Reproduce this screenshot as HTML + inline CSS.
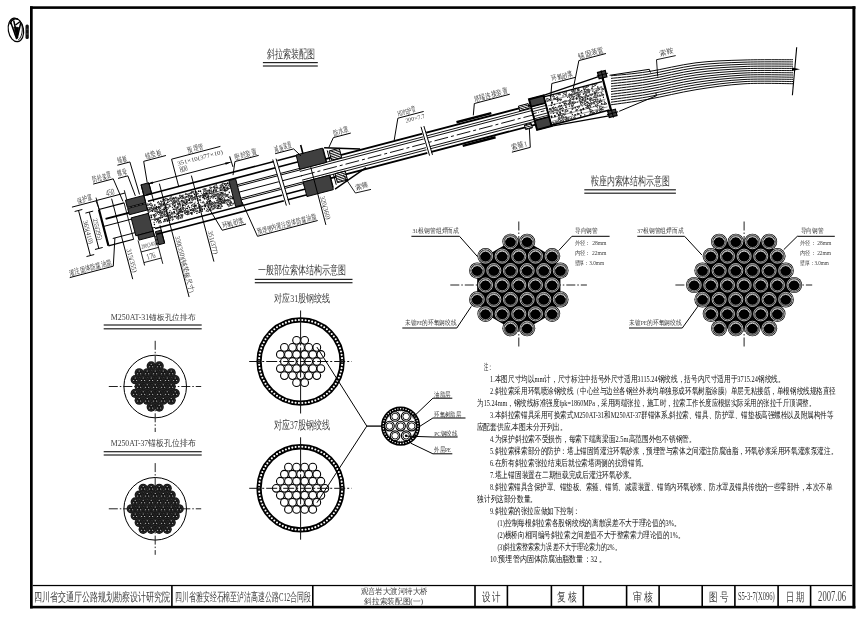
<!DOCTYPE html>
<html><head><meta charset="utf-8"><title>斜拉索装配图</title>
<style>html,body{margin:0;padding:0;background:#fff;}svg{display:block;will-change:transform;}</style></head>
<body><svg width="867" height="624" viewBox="0 0 867 624" font-family="'Liberation Serif', serif">
<defs><pattern id="hx" width="1.8" height="1.8" patternUnits="userSpaceOnUse" patternTransform="rotate(45)"><rect width="1.8" height="1.8" fill="#000"/><rect x="0.45" y="0.45" width="0.9" height="0.9" fill="#fff"/></pattern><pattern id="hy" width="1.6" height="1.6" patternUnits="userSpaceOnUse"><rect width="1.6" height="1.6" fill="#fff"/><rect width="1.6" height="0.75" fill="#000"/></pattern></defs>
<rect width="867" height="624" fill="#fff"/>
<rect x="30.00" y="6.30" width="825.40" height="2.60" fill="#000"/>
<rect x="30.00" y="6.30" width="2.70" height="602.10" fill="#000"/>
<rect x="852.40" y="6.30" width="3.00" height="602.10" fill="#000"/>
<rect x="30.00" y="605.80" width="825.40" height="2.60" fill="#000"/>
<rect x="32.70" y="584.90" width="819.70" height="1.25" fill="#000"/>
<rect x="171.10" y="585.00" width="1.60" height="21.00" fill="#000"/>
<rect x="312.00" y="585.00" width="1.60" height="21.00" fill="#000"/>
<rect x="474.20" y="585.00" width="1.60" height="21.00" fill="#000"/>
<rect x="506.60" y="585.00" width="1.60" height="21.00" fill="#000"/>
<rect x="550.60" y="585.00" width="1.60" height="21.00" fill="#000"/>
<rect x="582.50" y="585.00" width="1.60" height="21.00" fill="#000"/>
<rect x="625.80" y="585.00" width="1.60" height="21.00" fill="#000"/>
<rect x="658.30" y="585.00" width="1.60" height="21.00" fill="#000"/>
<rect x="701.40" y="585.00" width="1.60" height="21.00" fill="#000"/>
<rect x="734.10" y="585.00" width="1.60" height="21.00" fill="#000"/>
<rect x="777.30" y="585.00" width="1.60" height="21.00" fill="#000"/>
<rect x="809.80" y="585.00" width="1.60" height="21.00" fill="#000"/>
<text x="33.8" y="600.8" font-size="11.61" textLength="136.2" lengthAdjust="spacingAndGlyphs" fill="#3c3c3c" >四川省交通厅公路规划勘察设计研究院</text>
<text x="174.9" y="600.8" font-size="11.61" textLength="136.1" lengthAdjust="spacingAndGlyphs" fill="#3c3c3c" >四川省雅安经石棉至泸沽高速公路C12合同段</text>
<text x="360.5" y="594.4" font-size="8.06" textLength="67.2" lengthAdjust="spacingAndGlyphs" fill="#3c3c3c" >观音岩大渡河特大桥</text>
<text x="364.2" y="604.0" font-size="8.06" textLength="58.8" lengthAdjust="spacingAndGlyphs" fill="#3c3c3c" >斜拉索装配图(一)</text>
<text x="481.9" y="600.8" font-size="11.61" textLength="19.1" lengthAdjust="spacingAndGlyphs" fill="#3c3c3c" >设 计</text>
<text x="557.2" y="600.8" font-size="11.83" textLength="19.7" lengthAdjust="spacingAndGlyphs" fill="#3c3c3c" >复 核</text>
<text x="632.9" y="600.8" font-size="11.61" textLength="19.9" lengthAdjust="spacingAndGlyphs" fill="#3c3c3c" >审 核</text>
<text x="709.0" y="600.8" font-size="11.61" textLength="19.0" lengthAdjust="spacingAndGlyphs" fill="#3c3c3c" >图 号</text>
<text x="737.9" y="600.4" font-size="11.52" textLength="36.9" lengthAdjust="spacingAndGlyphs" fill="#3c3c3c" >S5-3-7(X096)</text>
<text x="785.7" y="600.8" font-size="11.61" textLength="18.4" lengthAdjust="spacingAndGlyphs" fill="#3c3c3c" >日 期</text>
<text x="818.1" y="601.3" font-size="14.55" textLength="27.9" lengthAdjust="spacingAndGlyphs" fill="#3c3c3c" >2007.06</text>
<g fill="none" stroke="#000" stroke-linecap="round"><ellipse cx="15.9" cy="29.9" rx="7.6" ry="11.9" stroke-width="1.2" transform="rotate(-10 15.9 29.9)"/><path d="M19.5,20.5 C23.5,23.5 23.5,36 18.5,40" stroke-width="0.9"/><path d="M10.2,23.5 C11.5,19.5 15,18 17.5,19.2" stroke-width="1.6"/><path d="M11,23 L16.5,38.5 M13.8,21 L17.6,37.5 M20.6,23.5 L17.2,38 M16.2,24.5 L19.5,22" stroke-width="1.5"/><path d="M14.2,27 L18.6,27.5 L17.6,35.5 L15.8,35.5 Z" fill="#000" stroke-width="0.8"/></g>
<rect x="25.5" y="24.5" width="3.3" height="14.6" rx="1.5" fill="#111"/>
<path d="M25.5,29.2 h3.3 M25.5,34 h3.3" stroke="#777" stroke-width="0.5"/>
<text x="267.3" y="57.5" font-size="12.15" textLength="48.2" lengthAdjust="spacingAndGlyphs" fill="#3c3c3c" >斜拉索装配图</text>
<rect x="262.90" y="62.00" width="54.90" height="1.20" fill="#222"/>
<rect x="262.90" y="65.40" width="54.90" height="1.20" fill="#222"/>
<text x="590.8" y="184.9" font-size="12.37" textLength="79.1" lengthAdjust="spacingAndGlyphs" fill="#3c3c3c" >鞍座内索体结构示意图</text>
<rect x="584.30" y="189.20" width="91.60" height="1.20" fill="#222"/>
<rect x="584.30" y="192.60" width="91.60" height="1.20" fill="#222"/>
<text x="258.2" y="274.3" font-size="11.61" textLength="88.0" lengthAdjust="spacingAndGlyphs" fill="#3c3c3c" >一般部位索体结构示意图</text>
<rect x="254.80" y="278.80" width="97.70" height="1.20" fill="#222"/>
<rect x="254.80" y="282.10" width="97.70" height="1.20" fill="#222"/>
<text x="110.8" y="319.5" font-size="8.28" textLength="84.6" lengthAdjust="spacingAndGlyphs" fill="#3c3c3c" >M250AT-31锚板孔位排布</text>
<rect x="103.70" y="324.40" width="98.00" height="1.20" fill="#222"/>
<rect x="103.70" y="328.20" width="98.00" height="1.20" fill="#222"/>
<text x="110.8" y="446.1" font-size="8.82" textLength="84.6" lengthAdjust="spacingAndGlyphs" fill="#3c3c3c" >M250AT-37锚板孔位排布</text>
<rect x="103.70" y="451.10" width="98.00" height="1.20" fill="#222"/>
<rect x="103.70" y="454.40" width="98.00" height="1.20" fill="#222"/>
<text x="274.1" y="301.6" font-size="10.97" textLength="56.1" lengthAdjust="spacingAndGlyphs" fill="#3c3c3c" >对应31股钢绞线</text>
<text x="274.1" y="428.5" font-size="11.61" textLength="55.8" lengthAdjust="spacingAndGlyphs" fill="#3c3c3c" >对应37股钢绞线</text>
<circle cx="300.6" cy="361.5" r="41.55" fill="none" stroke="#000" stroke-width="5.3"/>
<circle cx="342.15" cy="361.50" r="1.05" fill="#fff"/>
<circle cx="342.02" cy="364.84" r="1.05" fill="#fff"/>
<circle cx="341.61" cy="368.17" r="1.05" fill="#fff"/>
<circle cx="340.94" cy="371.44" r="1.05" fill="#fff"/>
<circle cx="340.01" cy="374.66" r="1.05" fill="#fff"/>
<circle cx="338.83" cy="377.79" r="1.05" fill="#fff"/>
<circle cx="337.39" cy="380.81" r="1.05" fill="#fff"/>
<circle cx="335.72" cy="383.71" r="1.05" fill="#fff"/>
<circle cx="333.82" cy="386.46" r="1.05" fill="#fff"/>
<circle cx="331.70" cy="389.05" r="1.05" fill="#fff"/>
<circle cx="329.38" cy="391.47" r="1.05" fill="#fff"/>
<circle cx="326.88" cy="393.68" r="1.05" fill="#fff"/>
<circle cx="324.20" cy="395.69" r="1.05" fill="#fff"/>
<circle cx="321.38" cy="397.48" r="1.05" fill="#fff"/>
<circle cx="318.41" cy="399.04" r="1.05" fill="#fff"/>
<circle cx="315.33" cy="400.35" r="1.05" fill="#fff"/>
<circle cx="312.16" cy="401.41" r="1.05" fill="#fff"/>
<circle cx="308.91" cy="402.21" r="1.05" fill="#fff"/>
<circle cx="305.61" cy="402.75" r="1.05" fill="#fff"/>
<circle cx="302.27" cy="403.02" r="1.05" fill="#fff"/>
<circle cx="298.93" cy="403.02" r="1.05" fill="#fff"/>
<circle cx="295.59" cy="402.75" r="1.05" fill="#fff"/>
<circle cx="292.29" cy="402.21" r="1.05" fill="#fff"/>
<circle cx="289.04" cy="401.41" r="1.05" fill="#fff"/>
<circle cx="285.87" cy="400.35" r="1.05" fill="#fff"/>
<circle cx="282.79" cy="399.04" r="1.05" fill="#fff"/>
<circle cx="279.82" cy="397.48" r="1.05" fill="#fff"/>
<circle cx="277.00" cy="395.69" r="1.05" fill="#fff"/>
<circle cx="274.32" cy="393.68" r="1.05" fill="#fff"/>
<circle cx="271.82" cy="391.47" r="1.05" fill="#fff"/>
<circle cx="269.50" cy="389.05" r="1.05" fill="#fff"/>
<circle cx="267.38" cy="386.46" r="1.05" fill="#fff"/>
<circle cx="265.48" cy="383.71" r="1.05" fill="#fff"/>
<circle cx="263.81" cy="380.81" r="1.05" fill="#fff"/>
<circle cx="262.37" cy="377.79" r="1.05" fill="#fff"/>
<circle cx="261.19" cy="374.66" r="1.05" fill="#fff"/>
<circle cx="260.26" cy="371.44" r="1.05" fill="#fff"/>
<circle cx="259.59" cy="368.17" r="1.05" fill="#fff"/>
<circle cx="259.18" cy="364.84" r="1.05" fill="#fff"/>
<circle cx="259.05" cy="361.50" r="1.05" fill="#fff"/>
<circle cx="259.18" cy="358.16" r="1.05" fill="#fff"/>
<circle cx="259.59" cy="354.83" r="1.05" fill="#fff"/>
<circle cx="260.26" cy="351.56" r="1.05" fill="#fff"/>
<circle cx="261.19" cy="348.34" r="1.05" fill="#fff"/>
<circle cx="262.37" cy="345.21" r="1.05" fill="#fff"/>
<circle cx="263.81" cy="342.19" r="1.05" fill="#fff"/>
<circle cx="265.48" cy="339.29" r="1.05" fill="#fff"/>
<circle cx="267.38" cy="336.54" r="1.05" fill="#fff"/>
<circle cx="269.50" cy="333.95" r="1.05" fill="#fff"/>
<circle cx="271.82" cy="331.53" r="1.05" fill="#fff"/>
<circle cx="274.32" cy="329.32" r="1.05" fill="#fff"/>
<circle cx="277.00" cy="327.31" r="1.05" fill="#fff"/>
<circle cx="279.83" cy="325.52" r="1.05" fill="#fff"/>
<circle cx="282.79" cy="323.96" r="1.05" fill="#fff"/>
<circle cx="285.87" cy="322.65" r="1.05" fill="#fff"/>
<circle cx="289.04" cy="321.59" r="1.05" fill="#fff"/>
<circle cx="292.29" cy="320.79" r="1.05" fill="#fff"/>
<circle cx="295.59" cy="320.25" r="1.05" fill="#fff"/>
<circle cx="298.93" cy="319.98" r="1.05" fill="#fff"/>
<circle cx="302.27" cy="319.98" r="1.05" fill="#fff"/>
<circle cx="305.61" cy="320.25" r="1.05" fill="#fff"/>
<circle cx="308.91" cy="320.79" r="1.05" fill="#fff"/>
<circle cx="312.16" cy="321.59" r="1.05" fill="#fff"/>
<circle cx="315.33" cy="322.65" r="1.05" fill="#fff"/>
<circle cx="318.41" cy="323.96" r="1.05" fill="#fff"/>
<circle cx="321.38" cy="325.52" r="1.05" fill="#fff"/>
<circle cx="324.20" cy="327.31" r="1.05" fill="#fff"/>
<circle cx="326.88" cy="329.32" r="1.05" fill="#fff"/>
<circle cx="329.38" cy="331.53" r="1.05" fill="#fff"/>
<circle cx="331.70" cy="333.95" r="1.05" fill="#fff"/>
<circle cx="333.82" cy="336.54" r="1.05" fill="#fff"/>
<circle cx="335.72" cy="339.29" r="1.05" fill="#fff"/>
<circle cx="337.39" cy="342.19" r="1.05" fill="#fff"/>
<circle cx="338.83" cy="345.21" r="1.05" fill="#fff"/>
<circle cx="340.01" cy="348.34" r="1.05" fill="#fff"/>
<circle cx="340.94" cy="351.56" r="1.05" fill="#fff"/>
<circle cx="341.61" cy="354.83" r="1.05" fill="#fff"/>
<circle cx="342.02" cy="358.16" r="1.05" fill="#fff"/>
<circle cx="296.55" cy="340.35" r="3.85" fill="#fff" stroke="#000" stroke-width="1.1"/>
<circle cx="304.65" cy="340.35" r="3.85" fill="#fff" stroke="#000" stroke-width="1.1"/>
<circle cx="284.40" cy="347.40" r="3.85" fill="#fff" stroke="#000" stroke-width="1.1"/>
<circle cx="292.50" cy="347.40" r="3.85" fill="#fff" stroke="#000" stroke-width="1.1"/>
<circle cx="300.60" cy="347.40" r="3.85" fill="#fff" stroke="#000" stroke-width="1.1"/>
<circle cx="308.70" cy="347.40" r="3.85" fill="#fff" stroke="#000" stroke-width="1.1"/>
<circle cx="316.80" cy="347.40" r="3.85" fill="#fff" stroke="#000" stroke-width="1.1"/>
<circle cx="280.35" cy="354.45" r="3.85" fill="#fff" stroke="#000" stroke-width="1.1"/>
<circle cx="288.45" cy="354.45" r="3.85" fill="#fff" stroke="#000" stroke-width="1.1"/>
<circle cx="296.55" cy="354.45" r="3.85" fill="#fff" stroke="#000" stroke-width="1.1"/>
<circle cx="304.65" cy="354.45" r="3.85" fill="#fff" stroke="#000" stroke-width="1.1"/>
<circle cx="312.75" cy="354.45" r="3.85" fill="#fff" stroke="#000" stroke-width="1.1"/>
<circle cx="320.85" cy="354.45" r="3.85" fill="#fff" stroke="#000" stroke-width="1.1"/>
<circle cx="284.40" cy="361.50" r="3.85" fill="#fff" stroke="#000" stroke-width="1.1"/>
<circle cx="292.50" cy="361.50" r="3.85" fill="#fff" stroke="#000" stroke-width="1.1"/>
<circle cx="300.60" cy="361.50" r="3.85" fill="#fff" stroke="#000" stroke-width="1.1"/>
<circle cx="308.70" cy="361.50" r="3.85" fill="#fff" stroke="#000" stroke-width="1.1"/>
<circle cx="316.80" cy="361.50" r="3.85" fill="#fff" stroke="#000" stroke-width="1.1"/>
<circle cx="280.35" cy="368.55" r="3.85" fill="#fff" stroke="#000" stroke-width="1.1"/>
<circle cx="288.45" cy="368.55" r="3.85" fill="#fff" stroke="#000" stroke-width="1.1"/>
<circle cx="296.55" cy="368.55" r="3.85" fill="#fff" stroke="#000" stroke-width="1.1"/>
<circle cx="304.65" cy="368.55" r="3.85" fill="#fff" stroke="#000" stroke-width="1.1"/>
<circle cx="312.75" cy="368.55" r="3.85" fill="#fff" stroke="#000" stroke-width="1.1"/>
<circle cx="320.85" cy="368.55" r="3.85" fill="#fff" stroke="#000" stroke-width="1.1"/>
<circle cx="284.40" cy="375.60" r="3.85" fill="#fff" stroke="#000" stroke-width="1.1"/>
<circle cx="292.50" cy="375.60" r="3.85" fill="#fff" stroke="#000" stroke-width="1.1"/>
<circle cx="300.60" cy="375.60" r="3.85" fill="#fff" stroke="#000" stroke-width="1.1"/>
<circle cx="308.70" cy="375.60" r="3.85" fill="#fff" stroke="#000" stroke-width="1.1"/>
<circle cx="316.80" cy="375.60" r="3.85" fill="#fff" stroke="#000" stroke-width="1.1"/>
<circle cx="296.55" cy="382.65" r="3.85" fill="#fff" stroke="#000" stroke-width="1.1"/>
<circle cx="304.65" cy="382.65" r="3.85" fill="#fff" stroke="#000" stroke-width="1.1"/>
<line x1="249.20" y1="361.50" x2="351.60" y2="361.50" stroke="#111" stroke-width="1.0" stroke-dasharray="11 2 2 2"/>
<line x1="300.60" y1="310.50" x2="300.60" y2="413.50" stroke="#111" stroke-width="1.0" stroke-dasharray="30 2 3 2"/>
<circle cx="300.6" cy="488.3" r="41.55" fill="none" stroke="#000" stroke-width="5.3"/>
<circle cx="342.15" cy="488.30" r="1.05" fill="#fff"/>
<circle cx="342.02" cy="491.64" r="1.05" fill="#fff"/>
<circle cx="341.61" cy="494.97" r="1.05" fill="#fff"/>
<circle cx="340.94" cy="498.24" r="1.05" fill="#fff"/>
<circle cx="340.01" cy="501.46" r="1.05" fill="#fff"/>
<circle cx="338.83" cy="504.59" r="1.05" fill="#fff"/>
<circle cx="337.39" cy="507.61" r="1.05" fill="#fff"/>
<circle cx="335.72" cy="510.51" r="1.05" fill="#fff"/>
<circle cx="333.82" cy="513.26" r="1.05" fill="#fff"/>
<circle cx="331.70" cy="515.85" r="1.05" fill="#fff"/>
<circle cx="329.38" cy="518.27" r="1.05" fill="#fff"/>
<circle cx="326.88" cy="520.48" r="1.05" fill="#fff"/>
<circle cx="324.20" cy="522.49" r="1.05" fill="#fff"/>
<circle cx="321.38" cy="524.28" r="1.05" fill="#fff"/>
<circle cx="318.41" cy="525.84" r="1.05" fill="#fff"/>
<circle cx="315.33" cy="527.15" r="1.05" fill="#fff"/>
<circle cx="312.16" cy="528.21" r="1.05" fill="#fff"/>
<circle cx="308.91" cy="529.01" r="1.05" fill="#fff"/>
<circle cx="305.61" cy="529.55" r="1.05" fill="#fff"/>
<circle cx="302.27" cy="529.82" r="1.05" fill="#fff"/>
<circle cx="298.93" cy="529.82" r="1.05" fill="#fff"/>
<circle cx="295.59" cy="529.55" r="1.05" fill="#fff"/>
<circle cx="292.29" cy="529.01" r="1.05" fill="#fff"/>
<circle cx="289.04" cy="528.21" r="1.05" fill="#fff"/>
<circle cx="285.87" cy="527.15" r="1.05" fill="#fff"/>
<circle cx="282.79" cy="525.84" r="1.05" fill="#fff"/>
<circle cx="279.82" cy="524.28" r="1.05" fill="#fff"/>
<circle cx="277.00" cy="522.49" r="1.05" fill="#fff"/>
<circle cx="274.32" cy="520.48" r="1.05" fill="#fff"/>
<circle cx="271.82" cy="518.27" r="1.05" fill="#fff"/>
<circle cx="269.50" cy="515.85" r="1.05" fill="#fff"/>
<circle cx="267.38" cy="513.26" r="1.05" fill="#fff"/>
<circle cx="265.48" cy="510.51" r="1.05" fill="#fff"/>
<circle cx="263.81" cy="507.61" r="1.05" fill="#fff"/>
<circle cx="262.37" cy="504.59" r="1.05" fill="#fff"/>
<circle cx="261.19" cy="501.46" r="1.05" fill="#fff"/>
<circle cx="260.26" cy="498.24" r="1.05" fill="#fff"/>
<circle cx="259.59" cy="494.97" r="1.05" fill="#fff"/>
<circle cx="259.18" cy="491.64" r="1.05" fill="#fff"/>
<circle cx="259.05" cy="488.30" r="1.05" fill="#fff"/>
<circle cx="259.18" cy="484.96" r="1.05" fill="#fff"/>
<circle cx="259.59" cy="481.63" r="1.05" fill="#fff"/>
<circle cx="260.26" cy="478.36" r="1.05" fill="#fff"/>
<circle cx="261.19" cy="475.14" r="1.05" fill="#fff"/>
<circle cx="262.37" cy="472.01" r="1.05" fill="#fff"/>
<circle cx="263.81" cy="468.99" r="1.05" fill="#fff"/>
<circle cx="265.48" cy="466.09" r="1.05" fill="#fff"/>
<circle cx="267.38" cy="463.34" r="1.05" fill="#fff"/>
<circle cx="269.50" cy="460.75" r="1.05" fill="#fff"/>
<circle cx="271.82" cy="458.33" r="1.05" fill="#fff"/>
<circle cx="274.32" cy="456.12" r="1.05" fill="#fff"/>
<circle cx="277.00" cy="454.11" r="1.05" fill="#fff"/>
<circle cx="279.83" cy="452.32" r="1.05" fill="#fff"/>
<circle cx="282.79" cy="450.76" r="1.05" fill="#fff"/>
<circle cx="285.87" cy="449.45" r="1.05" fill="#fff"/>
<circle cx="289.04" cy="448.39" r="1.05" fill="#fff"/>
<circle cx="292.29" cy="447.59" r="1.05" fill="#fff"/>
<circle cx="295.59" cy="447.05" r="1.05" fill="#fff"/>
<circle cx="298.93" cy="446.78" r="1.05" fill="#fff"/>
<circle cx="302.27" cy="446.78" r="1.05" fill="#fff"/>
<circle cx="305.61" cy="447.05" r="1.05" fill="#fff"/>
<circle cx="308.91" cy="447.59" r="1.05" fill="#fff"/>
<circle cx="312.16" cy="448.39" r="1.05" fill="#fff"/>
<circle cx="315.33" cy="449.45" r="1.05" fill="#fff"/>
<circle cx="318.41" cy="450.76" r="1.05" fill="#fff"/>
<circle cx="321.38" cy="452.32" r="1.05" fill="#fff"/>
<circle cx="324.20" cy="454.11" r="1.05" fill="#fff"/>
<circle cx="326.88" cy="456.12" r="1.05" fill="#fff"/>
<circle cx="329.38" cy="458.33" r="1.05" fill="#fff"/>
<circle cx="331.70" cy="460.75" r="1.05" fill="#fff"/>
<circle cx="333.82" cy="463.34" r="1.05" fill="#fff"/>
<circle cx="335.72" cy="466.09" r="1.05" fill="#fff"/>
<circle cx="337.39" cy="468.99" r="1.05" fill="#fff"/>
<circle cx="338.83" cy="472.01" r="1.05" fill="#fff"/>
<circle cx="340.01" cy="475.14" r="1.05" fill="#fff"/>
<circle cx="340.94" cy="478.36" r="1.05" fill="#fff"/>
<circle cx="341.61" cy="481.63" r="1.05" fill="#fff"/>
<circle cx="342.02" cy="484.96" r="1.05" fill="#fff"/>
<circle cx="288.45" cy="467.15" r="3.85" fill="#fff" stroke="#000" stroke-width="1.1"/>
<circle cx="296.55" cy="467.15" r="3.85" fill="#fff" stroke="#000" stroke-width="1.1"/>
<circle cx="304.65" cy="467.15" r="3.85" fill="#fff" stroke="#000" stroke-width="1.1"/>
<circle cx="312.75" cy="467.15" r="3.85" fill="#fff" stroke="#000" stroke-width="1.1"/>
<circle cx="284.40" cy="474.20" r="3.85" fill="#fff" stroke="#000" stroke-width="1.1"/>
<circle cx="292.50" cy="474.20" r="3.85" fill="#fff" stroke="#000" stroke-width="1.1"/>
<circle cx="300.60" cy="474.20" r="3.85" fill="#fff" stroke="#000" stroke-width="1.1"/>
<circle cx="308.70" cy="474.20" r="3.85" fill="#fff" stroke="#000" stroke-width="1.1"/>
<circle cx="316.80" cy="474.20" r="3.85" fill="#fff" stroke="#000" stroke-width="1.1"/>
<circle cx="280.35" cy="481.25" r="3.85" fill="#fff" stroke="#000" stroke-width="1.1"/>
<circle cx="288.45" cy="481.25" r="3.85" fill="#fff" stroke="#000" stroke-width="1.1"/>
<circle cx="296.55" cy="481.25" r="3.85" fill="#fff" stroke="#000" stroke-width="1.1"/>
<circle cx="304.65" cy="481.25" r="3.85" fill="#fff" stroke="#000" stroke-width="1.1"/>
<circle cx="312.75" cy="481.25" r="3.85" fill="#fff" stroke="#000" stroke-width="1.1"/>
<circle cx="320.85" cy="481.25" r="3.85" fill="#fff" stroke="#000" stroke-width="1.1"/>
<circle cx="276.30" cy="488.30" r="3.85" fill="#fff" stroke="#000" stroke-width="1.1"/>
<circle cx="284.40" cy="488.30" r="3.85" fill="#fff" stroke="#000" stroke-width="1.1"/>
<circle cx="292.50" cy="488.30" r="3.85" fill="#fff" stroke="#000" stroke-width="1.1"/>
<circle cx="300.60" cy="488.30" r="3.85" fill="#fff" stroke="#000" stroke-width="1.1"/>
<circle cx="308.70" cy="488.30" r="3.85" fill="#fff" stroke="#000" stroke-width="1.1"/>
<circle cx="316.80" cy="488.30" r="3.85" fill="#fff" stroke="#000" stroke-width="1.1"/>
<circle cx="324.90" cy="488.30" r="3.85" fill="#fff" stroke="#000" stroke-width="1.1"/>
<circle cx="280.35" cy="495.35" r="3.85" fill="#fff" stroke="#000" stroke-width="1.1"/>
<circle cx="288.45" cy="495.35" r="3.85" fill="#fff" stroke="#000" stroke-width="1.1"/>
<circle cx="296.55" cy="495.35" r="3.85" fill="#fff" stroke="#000" stroke-width="1.1"/>
<circle cx="304.65" cy="495.35" r="3.85" fill="#fff" stroke="#000" stroke-width="1.1"/>
<circle cx="312.75" cy="495.35" r="3.85" fill="#fff" stroke="#000" stroke-width="1.1"/>
<circle cx="320.85" cy="495.35" r="3.85" fill="#fff" stroke="#000" stroke-width="1.1"/>
<circle cx="284.40" cy="502.40" r="3.85" fill="#fff" stroke="#000" stroke-width="1.1"/>
<circle cx="292.50" cy="502.40" r="3.85" fill="#fff" stroke="#000" stroke-width="1.1"/>
<circle cx="300.60" cy="502.40" r="3.85" fill="#fff" stroke="#000" stroke-width="1.1"/>
<circle cx="308.70" cy="502.40" r="3.85" fill="#fff" stroke="#000" stroke-width="1.1"/>
<circle cx="316.80" cy="502.40" r="3.85" fill="#fff" stroke="#000" stroke-width="1.1"/>
<circle cx="288.45" cy="509.45" r="3.85" fill="#fff" stroke="#000" stroke-width="1.1"/>
<circle cx="296.55" cy="509.45" r="3.85" fill="#fff" stroke="#000" stroke-width="1.1"/>
<circle cx="304.65" cy="509.45" r="3.85" fill="#fff" stroke="#000" stroke-width="1.1"/>
<circle cx="312.75" cy="509.45" r="3.85" fill="#fff" stroke="#000" stroke-width="1.1"/>
<line x1="249.20" y1="488.30" x2="351.60" y2="488.30" stroke="#111" stroke-width="1.0" stroke-dasharray="11 2 2 2"/>
<line x1="300.60" y1="437.30" x2="300.60" y2="539.70" stroke="#111" stroke-width="1.0" stroke-dasharray="30 2 3 2"/>
<line x1="316.90" y1="347.10" x2="366.80" y2="426.10" stroke="#000" stroke-width="1.0" />
<line x1="316.90" y1="502.70" x2="366.80" y2="426.10" stroke="#000" stroke-width="1.0" />
<line x1="366.80" y1="426.10" x2="381.50" y2="426.10" stroke="#000" stroke-width="1.3" />
<circle cx="400.6" cy="426.1" r="17.5" fill="#fff" stroke="#000" stroke-width="4.2"/>
<circle cx="418.00" cy="426.10" r="0.7" fill="#fff"/>
<circle cx="417.79" cy="428.82" r="0.7" fill="#fff"/>
<circle cx="417.15" cy="431.48" r="0.7" fill="#fff"/>
<circle cx="416.10" cy="434.00" r="0.7" fill="#fff"/>
<circle cx="414.68" cy="436.33" r="0.7" fill="#fff"/>
<circle cx="412.90" cy="438.40" r="0.7" fill="#fff"/>
<circle cx="410.83" cy="440.18" r="0.7" fill="#fff"/>
<circle cx="408.50" cy="441.60" r="0.7" fill="#fff"/>
<circle cx="405.98" cy="442.65" r="0.7" fill="#fff"/>
<circle cx="403.32" cy="443.29" r="0.7" fill="#fff"/>
<circle cx="400.60" cy="443.50" r="0.7" fill="#fff"/>
<circle cx="397.88" cy="443.29" r="0.7" fill="#fff"/>
<circle cx="395.22" cy="442.65" r="0.7" fill="#fff"/>
<circle cx="392.70" cy="441.60" r="0.7" fill="#fff"/>
<circle cx="390.37" cy="440.18" r="0.7" fill="#fff"/>
<circle cx="388.30" cy="438.40" r="0.7" fill="#fff"/>
<circle cx="386.52" cy="436.33" r="0.7" fill="#fff"/>
<circle cx="385.10" cy="434.00" r="0.7" fill="#fff"/>
<circle cx="384.05" cy="431.48" r="0.7" fill="#fff"/>
<circle cx="383.41" cy="428.82" r="0.7" fill="#fff"/>
<circle cx="383.20" cy="426.10" r="0.7" fill="#fff"/>
<circle cx="383.41" cy="423.38" r="0.7" fill="#fff"/>
<circle cx="384.05" cy="420.72" r="0.7" fill="#fff"/>
<circle cx="385.10" cy="418.20" r="0.7" fill="#fff"/>
<circle cx="386.52" cy="415.87" r="0.7" fill="#fff"/>
<circle cx="388.30" cy="413.80" r="0.7" fill="#fff"/>
<circle cx="390.37" cy="412.02" r="0.7" fill="#fff"/>
<circle cx="392.70" cy="410.60" r="0.7" fill="#fff"/>
<circle cx="395.22" cy="409.55" r="0.7" fill="#fff"/>
<circle cx="397.88" cy="408.91" r="0.7" fill="#fff"/>
<circle cx="400.60" cy="408.70" r="0.7" fill="#fff"/>
<circle cx="403.32" cy="408.91" r="0.7" fill="#fff"/>
<circle cx="405.98" cy="409.55" r="0.7" fill="#fff"/>
<circle cx="408.50" cy="410.60" r="0.7" fill="#fff"/>
<circle cx="410.83" cy="412.02" r="0.7" fill="#fff"/>
<circle cx="412.90" cy="413.80" r="0.7" fill="#fff"/>
<circle cx="414.68" cy="415.87" r="0.7" fill="#fff"/>
<circle cx="416.10" cy="418.20" r="0.7" fill="#fff"/>
<circle cx="417.15" cy="420.72" r="0.7" fill="#fff"/>
<circle cx="417.79" cy="423.38" r="0.7" fill="#fff"/>
<circle cx="400.6" cy="426.1" r="15.1" fill="none" stroke="#000" stroke-width="0.6" stroke-dasharray="1 1.2"/>
<circle cx="400.60" cy="426.10" r="4.8" fill="#fff" stroke="#000" stroke-width="1.1"/>
<circle cx="400.60" cy="426.10" r="3.3" fill="none" stroke="#000" stroke-width="0.9"/>
<circle cx="411.70" cy="426.10" r="4.8" fill="#fff" stroke="#000" stroke-width="1.1"/>
<circle cx="411.70" cy="426.10" r="3.3" fill="none" stroke="#000" stroke-width="0.9"/>
<circle cx="406.15" cy="435.71" r="4.8" fill="#fff" stroke="#000" stroke-width="1.1"/>
<circle cx="406.15" cy="435.71" r="3.3" fill="none" stroke="#000" stroke-width="0.9"/>
<circle cx="395.05" cy="435.71" r="4.8" fill="#fff" stroke="#000" stroke-width="1.1"/>
<circle cx="395.05" cy="435.71" r="3.3" fill="none" stroke="#000" stroke-width="0.9"/>
<circle cx="389.50" cy="426.10" r="4.8" fill="#fff" stroke="#000" stroke-width="1.1"/>
<circle cx="389.50" cy="426.10" r="3.3" fill="none" stroke="#000" stroke-width="0.9"/>
<circle cx="395.05" cy="416.49" r="4.8" fill="#fff" stroke="#000" stroke-width="1.1"/>
<circle cx="395.05" cy="416.49" r="3.3" fill="none" stroke="#000" stroke-width="0.9"/>
<circle cx="406.15" cy="416.49" r="4.8" fill="#fff" stroke="#000" stroke-width="1.1"/>
<circle cx="406.15" cy="416.49" r="3.3" fill="none" stroke="#000" stroke-width="0.9"/>
<circle cx="406.15" cy="435.70" r="1.3" fill="#000"/>
<line x1="412.60" y1="417.60" x2="432.90" y2="398.20" stroke="#000" stroke-width="1.0" />
<line x1="432.90" y1="398.20" x2="452.30" y2="398.20" stroke="#000" stroke-width="1.0" />
<text x="434.3" y="396.5" font-size="6.77" textLength="16.6" lengthAdjust="spacingAndGlyphs" fill="#3c3c3c" >油脂层</text>
<line x1="419.70" y1="426.40" x2="432.90" y2="418.00" stroke="#000" stroke-width="1.0" />
<line x1="432.90" y1="418.00" x2="465.50" y2="418.00" stroke="#000" stroke-width="1.0" />
<text x="434.3" y="416.6" font-size="6.77" textLength="26.7" lengthAdjust="spacingAndGlyphs" fill="#3c3c3c" >环氧树脂层</text>
<line x1="405.60" y1="436.10" x2="432.90" y2="437.00" stroke="#000" stroke-width="1.0" />
<line x1="432.90" y1="437.00" x2="457.60" y2="437.00" stroke="#000" stroke-width="1.0" />
<text x="434.3" y="436.0" font-size="6.77" textLength="23.0" lengthAdjust="spacingAndGlyphs" fill="#3c3c3c" >PC钢绞线</text>
<line x1="410.80" y1="443.20" x2="432.90" y2="453.80" stroke="#000" stroke-width="1.0" />
<line x1="432.90" y1="453.80" x2="452.30" y2="453.80" stroke="#000" stroke-width="1.0" />
<text x="434.3" y="452.4" font-size="6.77" textLength="16.6" lengthAdjust="spacingAndGlyphs" fill="#3c3c3c" >外层PE</text>
<line x1="108.80" y1="386.50" x2="201.20" y2="386.50" stroke="#222" stroke-width="1.0" stroke-dasharray="9 2 1.5 2"/>
<circle cx="155.2" cy="386.5" r="31.3" fill="none" stroke="#000" stroke-width="1.0"/>
<line x1="155.20" y1="340.80" x2="155.20" y2="432.00" stroke="#222" stroke-width="1.0" stroke-dasharray="9 2 1.5 2"/>
<circle cx="151.20" cy="365.95" r="4.6" fill="#151515"/>
<circle cx="159.20" cy="365.95" r="4.6" fill="#151515"/>
<circle cx="139.20" cy="372.80" r="4.6" fill="#151515"/>
<circle cx="147.20" cy="372.80" r="4.6" fill="#151515"/>
<circle cx="155.20" cy="372.80" r="4.6" fill="#151515"/>
<circle cx="163.20" cy="372.80" r="4.6" fill="#151515"/>
<circle cx="171.20" cy="372.80" r="4.6" fill="#151515"/>
<circle cx="135.20" cy="379.65" r="4.6" fill="#151515"/>
<circle cx="143.20" cy="379.65" r="4.6" fill="#151515"/>
<circle cx="151.20" cy="379.65" r="4.6" fill="#151515"/>
<circle cx="159.20" cy="379.65" r="4.6" fill="#151515"/>
<circle cx="167.20" cy="379.65" r="4.6" fill="#151515"/>
<circle cx="175.20" cy="379.65" r="4.6" fill="#151515"/>
<circle cx="139.20" cy="386.50" r="4.6" fill="#151515"/>
<circle cx="147.20" cy="386.50" r="4.6" fill="#151515"/>
<circle cx="155.20" cy="386.50" r="4.6" fill="#151515"/>
<circle cx="163.20" cy="386.50" r="4.6" fill="#151515"/>
<circle cx="171.20" cy="386.50" r="4.6" fill="#151515"/>
<circle cx="135.20" cy="393.35" r="4.6" fill="#151515"/>
<circle cx="143.20" cy="393.35" r="4.6" fill="#151515"/>
<circle cx="151.20" cy="393.35" r="4.6" fill="#151515"/>
<circle cx="159.20" cy="393.35" r="4.6" fill="#151515"/>
<circle cx="167.20" cy="393.35" r="4.6" fill="#151515"/>
<circle cx="175.20" cy="393.35" r="4.6" fill="#151515"/>
<circle cx="139.20" cy="400.20" r="4.6" fill="#151515"/>
<circle cx="147.20" cy="400.20" r="4.6" fill="#151515"/>
<circle cx="155.20" cy="400.20" r="4.6" fill="#151515"/>
<circle cx="163.20" cy="400.20" r="4.6" fill="#151515"/>
<circle cx="171.20" cy="400.20" r="4.6" fill="#151515"/>
<circle cx="151.20" cy="407.05" r="4.6" fill="#151515"/>
<circle cx="159.20" cy="407.05" r="4.6" fill="#151515"/>
<circle cx="151.20" cy="365.95" r="3.3" fill="none" stroke="#444" stroke-width="0.4"/>
<circle cx="151.20" cy="364.25" r="0.5" fill="#fff"/>
<circle cx="152.70" cy="366.80" r="0.5" fill="#fff"/>
<circle cx="149.70" cy="366.80" r="0.5" fill="#fff"/>
<circle cx="159.20" cy="365.95" r="3.3" fill="none" stroke="#444" stroke-width="0.4"/>
<circle cx="159.20" cy="364.25" r="0.5" fill="#fff"/>
<circle cx="160.70" cy="366.80" r="0.5" fill="#fff"/>
<circle cx="157.70" cy="366.80" r="0.5" fill="#fff"/>
<circle cx="139.20" cy="372.80" r="3.3" fill="none" stroke="#444" stroke-width="0.4"/>
<circle cx="139.20" cy="371.10" r="0.5" fill="#fff"/>
<circle cx="140.70" cy="373.65" r="0.5" fill="#fff"/>
<circle cx="137.70" cy="373.65" r="0.5" fill="#fff"/>
<circle cx="147.20" cy="372.80" r="3.3" fill="none" stroke="#444" stroke-width="0.4"/>
<circle cx="147.20" cy="371.10" r="0.5" fill="#fff"/>
<circle cx="148.70" cy="373.65" r="0.5" fill="#fff"/>
<circle cx="145.70" cy="373.65" r="0.5" fill="#fff"/>
<circle cx="155.20" cy="372.80" r="3.3" fill="none" stroke="#444" stroke-width="0.4"/>
<circle cx="155.20" cy="371.10" r="0.5" fill="#fff"/>
<circle cx="156.70" cy="373.65" r="0.5" fill="#fff"/>
<circle cx="153.70" cy="373.65" r="0.5" fill="#fff"/>
<circle cx="163.20" cy="372.80" r="3.3" fill="none" stroke="#444" stroke-width="0.4"/>
<circle cx="163.20" cy="371.10" r="0.5" fill="#fff"/>
<circle cx="164.70" cy="373.65" r="0.5" fill="#fff"/>
<circle cx="161.70" cy="373.65" r="0.5" fill="#fff"/>
<circle cx="171.20" cy="372.80" r="3.3" fill="none" stroke="#444" stroke-width="0.4"/>
<circle cx="171.20" cy="371.10" r="0.5" fill="#fff"/>
<circle cx="172.70" cy="373.65" r="0.5" fill="#fff"/>
<circle cx="169.70" cy="373.65" r="0.5" fill="#fff"/>
<circle cx="135.20" cy="379.65" r="3.3" fill="none" stroke="#444" stroke-width="0.4"/>
<circle cx="135.20" cy="377.95" r="0.5" fill="#fff"/>
<circle cx="136.70" cy="380.50" r="0.5" fill="#fff"/>
<circle cx="133.70" cy="380.50" r="0.5" fill="#fff"/>
<circle cx="143.20" cy="379.65" r="3.3" fill="none" stroke="#444" stroke-width="0.4"/>
<circle cx="143.20" cy="377.95" r="0.5" fill="#fff"/>
<circle cx="144.70" cy="380.50" r="0.5" fill="#fff"/>
<circle cx="141.70" cy="380.50" r="0.5" fill="#fff"/>
<circle cx="151.20" cy="379.65" r="3.3" fill="none" stroke="#444" stroke-width="0.4"/>
<circle cx="151.20" cy="377.95" r="0.5" fill="#fff"/>
<circle cx="152.70" cy="380.50" r="0.5" fill="#fff"/>
<circle cx="149.70" cy="380.50" r="0.5" fill="#fff"/>
<circle cx="159.20" cy="379.65" r="3.3" fill="none" stroke="#444" stroke-width="0.4"/>
<circle cx="159.20" cy="377.95" r="0.5" fill="#fff"/>
<circle cx="160.70" cy="380.50" r="0.5" fill="#fff"/>
<circle cx="157.70" cy="380.50" r="0.5" fill="#fff"/>
<circle cx="167.20" cy="379.65" r="3.3" fill="none" stroke="#444" stroke-width="0.4"/>
<circle cx="167.20" cy="377.95" r="0.5" fill="#fff"/>
<circle cx="168.70" cy="380.50" r="0.5" fill="#fff"/>
<circle cx="165.70" cy="380.50" r="0.5" fill="#fff"/>
<circle cx="175.20" cy="379.65" r="3.3" fill="none" stroke="#444" stroke-width="0.4"/>
<circle cx="175.20" cy="377.95" r="0.5" fill="#fff"/>
<circle cx="176.70" cy="380.50" r="0.5" fill="#fff"/>
<circle cx="173.70" cy="380.50" r="0.5" fill="#fff"/>
<circle cx="139.20" cy="386.50" r="3.3" fill="none" stroke="#444" stroke-width="0.4"/>
<circle cx="139.20" cy="384.80" r="0.5" fill="#fff"/>
<circle cx="140.70" cy="387.35" r="0.5" fill="#fff"/>
<circle cx="137.70" cy="387.35" r="0.5" fill="#fff"/>
<circle cx="147.20" cy="386.50" r="3.3" fill="none" stroke="#444" stroke-width="0.4"/>
<circle cx="147.20" cy="384.80" r="0.5" fill="#fff"/>
<circle cx="148.70" cy="387.35" r="0.5" fill="#fff"/>
<circle cx="145.70" cy="387.35" r="0.5" fill="#fff"/>
<circle cx="155.20" cy="386.50" r="3.3" fill="none" stroke="#444" stroke-width="0.4"/>
<circle cx="155.20" cy="384.80" r="0.5" fill="#fff"/>
<circle cx="156.70" cy="387.35" r="0.5" fill="#fff"/>
<circle cx="153.70" cy="387.35" r="0.5" fill="#fff"/>
<circle cx="163.20" cy="386.50" r="3.3" fill="none" stroke="#444" stroke-width="0.4"/>
<circle cx="163.20" cy="384.80" r="0.5" fill="#fff"/>
<circle cx="164.70" cy="387.35" r="0.5" fill="#fff"/>
<circle cx="161.70" cy="387.35" r="0.5" fill="#fff"/>
<circle cx="171.20" cy="386.50" r="3.3" fill="none" stroke="#444" stroke-width="0.4"/>
<circle cx="171.20" cy="384.80" r="0.5" fill="#fff"/>
<circle cx="172.70" cy="387.35" r="0.5" fill="#fff"/>
<circle cx="169.70" cy="387.35" r="0.5" fill="#fff"/>
<circle cx="135.20" cy="393.35" r="3.3" fill="none" stroke="#444" stroke-width="0.4"/>
<circle cx="135.20" cy="391.65" r="0.5" fill="#fff"/>
<circle cx="136.70" cy="394.20" r="0.5" fill="#fff"/>
<circle cx="133.70" cy="394.20" r="0.5" fill="#fff"/>
<circle cx="143.20" cy="393.35" r="3.3" fill="none" stroke="#444" stroke-width="0.4"/>
<circle cx="143.20" cy="391.65" r="0.5" fill="#fff"/>
<circle cx="144.70" cy="394.20" r="0.5" fill="#fff"/>
<circle cx="141.70" cy="394.20" r="0.5" fill="#fff"/>
<circle cx="151.20" cy="393.35" r="3.3" fill="none" stroke="#444" stroke-width="0.4"/>
<circle cx="151.20" cy="391.65" r="0.5" fill="#fff"/>
<circle cx="152.70" cy="394.20" r="0.5" fill="#fff"/>
<circle cx="149.70" cy="394.20" r="0.5" fill="#fff"/>
<circle cx="159.20" cy="393.35" r="3.3" fill="none" stroke="#444" stroke-width="0.4"/>
<circle cx="159.20" cy="391.65" r="0.5" fill="#fff"/>
<circle cx="160.70" cy="394.20" r="0.5" fill="#fff"/>
<circle cx="157.70" cy="394.20" r="0.5" fill="#fff"/>
<circle cx="167.20" cy="393.35" r="3.3" fill="none" stroke="#444" stroke-width="0.4"/>
<circle cx="167.20" cy="391.65" r="0.5" fill="#fff"/>
<circle cx="168.70" cy="394.20" r="0.5" fill="#fff"/>
<circle cx="165.70" cy="394.20" r="0.5" fill="#fff"/>
<circle cx="175.20" cy="393.35" r="3.3" fill="none" stroke="#444" stroke-width="0.4"/>
<circle cx="175.20" cy="391.65" r="0.5" fill="#fff"/>
<circle cx="176.70" cy="394.20" r="0.5" fill="#fff"/>
<circle cx="173.70" cy="394.20" r="0.5" fill="#fff"/>
<circle cx="139.20" cy="400.20" r="3.3" fill="none" stroke="#444" stroke-width="0.4"/>
<circle cx="139.20" cy="398.50" r="0.5" fill="#fff"/>
<circle cx="140.70" cy="401.05" r="0.5" fill="#fff"/>
<circle cx="137.70" cy="401.05" r="0.5" fill="#fff"/>
<circle cx="147.20" cy="400.20" r="3.3" fill="none" stroke="#444" stroke-width="0.4"/>
<circle cx="147.20" cy="398.50" r="0.5" fill="#fff"/>
<circle cx="148.70" cy="401.05" r="0.5" fill="#fff"/>
<circle cx="145.70" cy="401.05" r="0.5" fill="#fff"/>
<circle cx="155.20" cy="400.20" r="3.3" fill="none" stroke="#444" stroke-width="0.4"/>
<circle cx="155.20" cy="398.50" r="0.5" fill="#fff"/>
<circle cx="156.70" cy="401.05" r="0.5" fill="#fff"/>
<circle cx="153.70" cy="401.05" r="0.5" fill="#fff"/>
<circle cx="163.20" cy="400.20" r="3.3" fill="none" stroke="#444" stroke-width="0.4"/>
<circle cx="163.20" cy="398.50" r="0.5" fill="#fff"/>
<circle cx="164.70" cy="401.05" r="0.5" fill="#fff"/>
<circle cx="161.70" cy="401.05" r="0.5" fill="#fff"/>
<circle cx="171.20" cy="400.20" r="3.3" fill="none" stroke="#444" stroke-width="0.4"/>
<circle cx="171.20" cy="398.50" r="0.5" fill="#fff"/>
<circle cx="172.70" cy="401.05" r="0.5" fill="#fff"/>
<circle cx="169.70" cy="401.05" r="0.5" fill="#fff"/>
<circle cx="151.20" cy="407.05" r="3.3" fill="none" stroke="#444" stroke-width="0.4"/>
<circle cx="151.20" cy="405.35" r="0.5" fill="#fff"/>
<circle cx="152.70" cy="407.90" r="0.5" fill="#fff"/>
<circle cx="149.70" cy="407.90" r="0.5" fill="#fff"/>
<circle cx="159.20" cy="407.05" r="3.3" fill="none" stroke="#444" stroke-width="0.4"/>
<circle cx="159.20" cy="405.35" r="0.5" fill="#fff"/>
<circle cx="160.70" cy="407.90" r="0.5" fill="#fff"/>
<circle cx="157.70" cy="407.90" r="0.5" fill="#fff"/>
<line x1="108.80" y1="508.80" x2="201.20" y2="508.80" stroke="#222" stroke-width="1.0" stroke-dasharray="9 2 1.5 2"/>
<circle cx="155.2" cy="508.8" r="31.3" fill="none" stroke="#000" stroke-width="1.0"/>
<line x1="155.20" y1="463.10" x2="155.20" y2="554.80" stroke="#222" stroke-width="1.0" stroke-dasharray="9 2 1.5 2"/>
<circle cx="143.20" cy="488.25" r="4.6" fill="#151515"/>
<circle cx="151.20" cy="488.25" r="4.6" fill="#151515"/>
<circle cx="159.20" cy="488.25" r="4.6" fill="#151515"/>
<circle cx="167.20" cy="488.25" r="4.6" fill="#151515"/>
<circle cx="139.20" cy="495.10" r="4.6" fill="#151515"/>
<circle cx="147.20" cy="495.10" r="4.6" fill="#151515"/>
<circle cx="155.20" cy="495.10" r="4.6" fill="#151515"/>
<circle cx="163.20" cy="495.10" r="4.6" fill="#151515"/>
<circle cx="171.20" cy="495.10" r="4.6" fill="#151515"/>
<circle cx="135.20" cy="501.95" r="4.6" fill="#151515"/>
<circle cx="143.20" cy="501.95" r="4.6" fill="#151515"/>
<circle cx="151.20" cy="501.95" r="4.6" fill="#151515"/>
<circle cx="159.20" cy="501.95" r="4.6" fill="#151515"/>
<circle cx="167.20" cy="501.95" r="4.6" fill="#151515"/>
<circle cx="175.20" cy="501.95" r="4.6" fill="#151515"/>
<circle cx="131.20" cy="508.80" r="4.6" fill="#151515"/>
<circle cx="139.20" cy="508.80" r="4.6" fill="#151515"/>
<circle cx="147.20" cy="508.80" r="4.6" fill="#151515"/>
<circle cx="155.20" cy="508.80" r="4.6" fill="#151515"/>
<circle cx="163.20" cy="508.80" r="4.6" fill="#151515"/>
<circle cx="171.20" cy="508.80" r="4.6" fill="#151515"/>
<circle cx="179.20" cy="508.80" r="4.6" fill="#151515"/>
<circle cx="135.20" cy="515.65" r="4.6" fill="#151515"/>
<circle cx="143.20" cy="515.65" r="4.6" fill="#151515"/>
<circle cx="151.20" cy="515.65" r="4.6" fill="#151515"/>
<circle cx="159.20" cy="515.65" r="4.6" fill="#151515"/>
<circle cx="167.20" cy="515.65" r="4.6" fill="#151515"/>
<circle cx="175.20" cy="515.65" r="4.6" fill="#151515"/>
<circle cx="139.20" cy="522.50" r="4.6" fill="#151515"/>
<circle cx="147.20" cy="522.50" r="4.6" fill="#151515"/>
<circle cx="155.20" cy="522.50" r="4.6" fill="#151515"/>
<circle cx="163.20" cy="522.50" r="4.6" fill="#151515"/>
<circle cx="171.20" cy="522.50" r="4.6" fill="#151515"/>
<circle cx="143.20" cy="529.35" r="4.6" fill="#151515"/>
<circle cx="151.20" cy="529.35" r="4.6" fill="#151515"/>
<circle cx="159.20" cy="529.35" r="4.6" fill="#151515"/>
<circle cx="167.20" cy="529.35" r="4.6" fill="#151515"/>
<circle cx="143.20" cy="488.25" r="3.3" fill="none" stroke="#444" stroke-width="0.4"/>
<circle cx="143.20" cy="486.55" r="0.5" fill="#fff"/>
<circle cx="144.70" cy="489.10" r="0.5" fill="#fff"/>
<circle cx="141.70" cy="489.10" r="0.5" fill="#fff"/>
<circle cx="151.20" cy="488.25" r="3.3" fill="none" stroke="#444" stroke-width="0.4"/>
<circle cx="151.20" cy="486.55" r="0.5" fill="#fff"/>
<circle cx="152.70" cy="489.10" r="0.5" fill="#fff"/>
<circle cx="149.70" cy="489.10" r="0.5" fill="#fff"/>
<circle cx="159.20" cy="488.25" r="3.3" fill="none" stroke="#444" stroke-width="0.4"/>
<circle cx="159.20" cy="486.55" r="0.5" fill="#fff"/>
<circle cx="160.70" cy="489.10" r="0.5" fill="#fff"/>
<circle cx="157.70" cy="489.10" r="0.5" fill="#fff"/>
<circle cx="167.20" cy="488.25" r="3.3" fill="none" stroke="#444" stroke-width="0.4"/>
<circle cx="167.20" cy="486.55" r="0.5" fill="#fff"/>
<circle cx="168.70" cy="489.10" r="0.5" fill="#fff"/>
<circle cx="165.70" cy="489.10" r="0.5" fill="#fff"/>
<circle cx="139.20" cy="495.10" r="3.3" fill="none" stroke="#444" stroke-width="0.4"/>
<circle cx="139.20" cy="493.40" r="0.5" fill="#fff"/>
<circle cx="140.70" cy="495.95" r="0.5" fill="#fff"/>
<circle cx="137.70" cy="495.95" r="0.5" fill="#fff"/>
<circle cx="147.20" cy="495.10" r="3.3" fill="none" stroke="#444" stroke-width="0.4"/>
<circle cx="147.20" cy="493.40" r="0.5" fill="#fff"/>
<circle cx="148.70" cy="495.95" r="0.5" fill="#fff"/>
<circle cx="145.70" cy="495.95" r="0.5" fill="#fff"/>
<circle cx="155.20" cy="495.10" r="3.3" fill="none" stroke="#444" stroke-width="0.4"/>
<circle cx="155.20" cy="493.40" r="0.5" fill="#fff"/>
<circle cx="156.70" cy="495.95" r="0.5" fill="#fff"/>
<circle cx="153.70" cy="495.95" r="0.5" fill="#fff"/>
<circle cx="163.20" cy="495.10" r="3.3" fill="none" stroke="#444" stroke-width="0.4"/>
<circle cx="163.20" cy="493.40" r="0.5" fill="#fff"/>
<circle cx="164.70" cy="495.95" r="0.5" fill="#fff"/>
<circle cx="161.70" cy="495.95" r="0.5" fill="#fff"/>
<circle cx="171.20" cy="495.10" r="3.3" fill="none" stroke="#444" stroke-width="0.4"/>
<circle cx="171.20" cy="493.40" r="0.5" fill="#fff"/>
<circle cx="172.70" cy="495.95" r="0.5" fill="#fff"/>
<circle cx="169.70" cy="495.95" r="0.5" fill="#fff"/>
<circle cx="135.20" cy="501.95" r="3.3" fill="none" stroke="#444" stroke-width="0.4"/>
<circle cx="135.20" cy="500.25" r="0.5" fill="#fff"/>
<circle cx="136.70" cy="502.80" r="0.5" fill="#fff"/>
<circle cx="133.70" cy="502.80" r="0.5" fill="#fff"/>
<circle cx="143.20" cy="501.95" r="3.3" fill="none" stroke="#444" stroke-width="0.4"/>
<circle cx="143.20" cy="500.25" r="0.5" fill="#fff"/>
<circle cx="144.70" cy="502.80" r="0.5" fill="#fff"/>
<circle cx="141.70" cy="502.80" r="0.5" fill="#fff"/>
<circle cx="151.20" cy="501.95" r="3.3" fill="none" stroke="#444" stroke-width="0.4"/>
<circle cx="151.20" cy="500.25" r="0.5" fill="#fff"/>
<circle cx="152.70" cy="502.80" r="0.5" fill="#fff"/>
<circle cx="149.70" cy="502.80" r="0.5" fill="#fff"/>
<circle cx="159.20" cy="501.95" r="3.3" fill="none" stroke="#444" stroke-width="0.4"/>
<circle cx="159.20" cy="500.25" r="0.5" fill="#fff"/>
<circle cx="160.70" cy="502.80" r="0.5" fill="#fff"/>
<circle cx="157.70" cy="502.80" r="0.5" fill="#fff"/>
<circle cx="167.20" cy="501.95" r="3.3" fill="none" stroke="#444" stroke-width="0.4"/>
<circle cx="167.20" cy="500.25" r="0.5" fill="#fff"/>
<circle cx="168.70" cy="502.80" r="0.5" fill="#fff"/>
<circle cx="165.70" cy="502.80" r="0.5" fill="#fff"/>
<circle cx="175.20" cy="501.95" r="3.3" fill="none" stroke="#444" stroke-width="0.4"/>
<circle cx="175.20" cy="500.25" r="0.5" fill="#fff"/>
<circle cx="176.70" cy="502.80" r="0.5" fill="#fff"/>
<circle cx="173.70" cy="502.80" r="0.5" fill="#fff"/>
<circle cx="131.20" cy="508.80" r="3.3" fill="none" stroke="#444" stroke-width="0.4"/>
<circle cx="131.20" cy="507.10" r="0.5" fill="#fff"/>
<circle cx="132.70" cy="509.65" r="0.5" fill="#fff"/>
<circle cx="129.70" cy="509.65" r="0.5" fill="#fff"/>
<circle cx="139.20" cy="508.80" r="3.3" fill="none" stroke="#444" stroke-width="0.4"/>
<circle cx="139.20" cy="507.10" r="0.5" fill="#fff"/>
<circle cx="140.70" cy="509.65" r="0.5" fill="#fff"/>
<circle cx="137.70" cy="509.65" r="0.5" fill="#fff"/>
<circle cx="147.20" cy="508.80" r="3.3" fill="none" stroke="#444" stroke-width="0.4"/>
<circle cx="147.20" cy="507.10" r="0.5" fill="#fff"/>
<circle cx="148.70" cy="509.65" r="0.5" fill="#fff"/>
<circle cx="145.70" cy="509.65" r="0.5" fill="#fff"/>
<circle cx="155.20" cy="508.80" r="3.3" fill="none" stroke="#444" stroke-width="0.4"/>
<circle cx="155.20" cy="507.10" r="0.5" fill="#fff"/>
<circle cx="156.70" cy="509.65" r="0.5" fill="#fff"/>
<circle cx="153.70" cy="509.65" r="0.5" fill="#fff"/>
<circle cx="163.20" cy="508.80" r="3.3" fill="none" stroke="#444" stroke-width="0.4"/>
<circle cx="163.20" cy="507.10" r="0.5" fill="#fff"/>
<circle cx="164.70" cy="509.65" r="0.5" fill="#fff"/>
<circle cx="161.70" cy="509.65" r="0.5" fill="#fff"/>
<circle cx="171.20" cy="508.80" r="3.3" fill="none" stroke="#444" stroke-width="0.4"/>
<circle cx="171.20" cy="507.10" r="0.5" fill="#fff"/>
<circle cx="172.70" cy="509.65" r="0.5" fill="#fff"/>
<circle cx="169.70" cy="509.65" r="0.5" fill="#fff"/>
<circle cx="179.20" cy="508.80" r="3.3" fill="none" stroke="#444" stroke-width="0.4"/>
<circle cx="179.20" cy="507.10" r="0.5" fill="#fff"/>
<circle cx="180.70" cy="509.65" r="0.5" fill="#fff"/>
<circle cx="177.70" cy="509.65" r="0.5" fill="#fff"/>
<circle cx="135.20" cy="515.65" r="3.3" fill="none" stroke="#444" stroke-width="0.4"/>
<circle cx="135.20" cy="513.95" r="0.5" fill="#fff"/>
<circle cx="136.70" cy="516.50" r="0.5" fill="#fff"/>
<circle cx="133.70" cy="516.50" r="0.5" fill="#fff"/>
<circle cx="143.20" cy="515.65" r="3.3" fill="none" stroke="#444" stroke-width="0.4"/>
<circle cx="143.20" cy="513.95" r="0.5" fill="#fff"/>
<circle cx="144.70" cy="516.50" r="0.5" fill="#fff"/>
<circle cx="141.70" cy="516.50" r="0.5" fill="#fff"/>
<circle cx="151.20" cy="515.65" r="3.3" fill="none" stroke="#444" stroke-width="0.4"/>
<circle cx="151.20" cy="513.95" r="0.5" fill="#fff"/>
<circle cx="152.70" cy="516.50" r="0.5" fill="#fff"/>
<circle cx="149.70" cy="516.50" r="0.5" fill="#fff"/>
<circle cx="159.20" cy="515.65" r="3.3" fill="none" stroke="#444" stroke-width="0.4"/>
<circle cx="159.20" cy="513.95" r="0.5" fill="#fff"/>
<circle cx="160.70" cy="516.50" r="0.5" fill="#fff"/>
<circle cx="157.70" cy="516.50" r="0.5" fill="#fff"/>
<circle cx="167.20" cy="515.65" r="3.3" fill="none" stroke="#444" stroke-width="0.4"/>
<circle cx="167.20" cy="513.95" r="0.5" fill="#fff"/>
<circle cx="168.70" cy="516.50" r="0.5" fill="#fff"/>
<circle cx="165.70" cy="516.50" r="0.5" fill="#fff"/>
<circle cx="175.20" cy="515.65" r="3.3" fill="none" stroke="#444" stroke-width="0.4"/>
<circle cx="175.20" cy="513.95" r="0.5" fill="#fff"/>
<circle cx="176.70" cy="516.50" r="0.5" fill="#fff"/>
<circle cx="173.70" cy="516.50" r="0.5" fill="#fff"/>
<circle cx="139.20" cy="522.50" r="3.3" fill="none" stroke="#444" stroke-width="0.4"/>
<circle cx="139.20" cy="520.80" r="0.5" fill="#fff"/>
<circle cx="140.70" cy="523.35" r="0.5" fill="#fff"/>
<circle cx="137.70" cy="523.35" r="0.5" fill="#fff"/>
<circle cx="147.20" cy="522.50" r="3.3" fill="none" stroke="#444" stroke-width="0.4"/>
<circle cx="147.20" cy="520.80" r="0.5" fill="#fff"/>
<circle cx="148.70" cy="523.35" r="0.5" fill="#fff"/>
<circle cx="145.70" cy="523.35" r="0.5" fill="#fff"/>
<circle cx="155.20" cy="522.50" r="3.3" fill="none" stroke="#444" stroke-width="0.4"/>
<circle cx="155.20" cy="520.80" r="0.5" fill="#fff"/>
<circle cx="156.70" cy="523.35" r="0.5" fill="#fff"/>
<circle cx="153.70" cy="523.35" r="0.5" fill="#fff"/>
<circle cx="163.20" cy="522.50" r="3.3" fill="none" stroke="#444" stroke-width="0.4"/>
<circle cx="163.20" cy="520.80" r="0.5" fill="#fff"/>
<circle cx="164.70" cy="523.35" r="0.5" fill="#fff"/>
<circle cx="161.70" cy="523.35" r="0.5" fill="#fff"/>
<circle cx="171.20" cy="522.50" r="3.3" fill="none" stroke="#444" stroke-width="0.4"/>
<circle cx="171.20" cy="520.80" r="0.5" fill="#fff"/>
<circle cx="172.70" cy="523.35" r="0.5" fill="#fff"/>
<circle cx="169.70" cy="523.35" r="0.5" fill="#fff"/>
<circle cx="143.20" cy="529.35" r="3.3" fill="none" stroke="#444" stroke-width="0.4"/>
<circle cx="143.20" cy="527.65" r="0.5" fill="#fff"/>
<circle cx="144.70" cy="530.20" r="0.5" fill="#fff"/>
<circle cx="141.70" cy="530.20" r="0.5" fill="#fff"/>
<circle cx="151.20" cy="529.35" r="3.3" fill="none" stroke="#444" stroke-width="0.4"/>
<circle cx="151.20" cy="527.65" r="0.5" fill="#fff"/>
<circle cx="152.70" cy="530.20" r="0.5" fill="#fff"/>
<circle cx="149.70" cy="530.20" r="0.5" fill="#fff"/>
<circle cx="159.20" cy="529.35" r="3.3" fill="none" stroke="#444" stroke-width="0.4"/>
<circle cx="159.20" cy="527.65" r="0.5" fill="#fff"/>
<circle cx="160.70" cy="530.20" r="0.5" fill="#fff"/>
<circle cx="157.70" cy="530.20" r="0.5" fill="#fff"/>
<circle cx="167.20" cy="529.35" r="3.3" fill="none" stroke="#444" stroke-width="0.4"/>
<circle cx="167.20" cy="527.65" r="0.5" fill="#fff"/>
<circle cx="168.70" cy="530.20" r="0.5" fill="#fff"/>
<circle cx="165.70" cy="530.20" r="0.5" fill="#fff"/>
<line x1="450.30" y1="285.00" x2="586.90" y2="285.00" stroke="#222" stroke-width="1.0" stroke-dasharray="9 2 1.5 2"/>
<line x1="518.80" y1="221.50" x2="518.80" y2="348.40" stroke="#222" stroke-width="1.0" stroke-dasharray="9 2 1.5 2"/>
<polygon points="477.18,270.58 485.50,256.16 510.48,241.74 527.12,241.74 552.10,256.16 560.42,270.58 560.42,299.42 552.10,313.84 527.12,328.26 510.48,328.26 485.50,313.84 477.18,299.42" fill="#000"/>
<circle cx="510.47" cy="241.74" r="8.1" fill="#000"/>
<circle cx="510.47" cy="241.74" r="7.05" fill="none" stroke="#fff" stroke-width="0.7"/>
<circle cx="510.47" cy="241.74" r="5.8" fill="none" stroke="#fff" stroke-width="0.55"/>
<path d="M505.26,240.34 A5.55,5.55 0 0 1 515.69,240.34" fill="none" stroke="#fff" stroke-width="0.8"/>
<circle cx="527.12" cy="241.74" r="8.1" fill="#000"/>
<circle cx="527.12" cy="241.74" r="7.05" fill="none" stroke="#fff" stroke-width="0.7"/>
<circle cx="527.12" cy="241.74" r="5.8" fill="none" stroke="#fff" stroke-width="0.55"/>
<path d="M521.91,240.34 A5.55,5.55 0 0 1 532.34,240.34" fill="none" stroke="#fff" stroke-width="0.8"/>
<circle cx="485.50" cy="256.16" r="8.1" fill="#000"/>
<circle cx="485.50" cy="256.16" r="7.05" fill="none" stroke="#fff" stroke-width="0.7"/>
<circle cx="485.50" cy="256.16" r="5.8" fill="none" stroke="#fff" stroke-width="0.55"/>
<path d="M480.28,254.76 A5.55,5.55 0 0 1 490.72,254.76" fill="none" stroke="#fff" stroke-width="0.8"/>
<circle cx="502.15" cy="256.16" r="8.1" fill="#000"/>
<circle cx="502.15" cy="256.16" r="7.05" fill="none" stroke="#fff" stroke-width="0.7"/>
<circle cx="502.15" cy="256.16" r="5.8" fill="none" stroke="#fff" stroke-width="0.55"/>
<path d="M496.93,254.76 A5.55,5.55 0 0 1 507.37,254.76" fill="none" stroke="#fff" stroke-width="0.8"/>
<circle cx="518.80" cy="256.16" r="8.1" fill="#000"/>
<circle cx="518.80" cy="256.16" r="7.05" fill="none" stroke="#fff" stroke-width="0.7"/>
<circle cx="518.80" cy="256.16" r="5.8" fill="none" stroke="#fff" stroke-width="0.55"/>
<path d="M513.58,254.76 A5.55,5.55 0 0 1 524.02,254.76" fill="none" stroke="#fff" stroke-width="0.8"/>
<circle cx="535.45" cy="256.16" r="8.1" fill="#000"/>
<circle cx="535.45" cy="256.16" r="7.05" fill="none" stroke="#fff" stroke-width="0.7"/>
<circle cx="535.45" cy="256.16" r="5.8" fill="none" stroke="#fff" stroke-width="0.55"/>
<path d="M530.23,254.76 A5.55,5.55 0 0 1 540.67,254.76" fill="none" stroke="#fff" stroke-width="0.8"/>
<circle cx="552.10" cy="256.16" r="8.1" fill="#000"/>
<circle cx="552.10" cy="256.16" r="7.05" fill="none" stroke="#fff" stroke-width="0.7"/>
<circle cx="552.10" cy="256.16" r="5.8" fill="none" stroke="#fff" stroke-width="0.55"/>
<path d="M546.88,254.76 A5.55,5.55 0 0 1 557.32,254.76" fill="none" stroke="#fff" stroke-width="0.8"/>
<circle cx="477.17" cy="270.58" r="8.1" fill="#000"/>
<circle cx="477.17" cy="270.58" r="7.05" fill="none" stroke="#fff" stroke-width="0.7"/>
<circle cx="477.17" cy="270.58" r="5.8" fill="none" stroke="#fff" stroke-width="0.55"/>
<path d="M471.96,269.18 A5.55,5.55 0 0 1 482.39,269.18" fill="none" stroke="#fff" stroke-width="0.8"/>
<circle cx="493.82" cy="270.58" r="8.1" fill="#000"/>
<circle cx="493.82" cy="270.58" r="7.05" fill="none" stroke="#fff" stroke-width="0.7"/>
<circle cx="493.82" cy="270.58" r="5.8" fill="none" stroke="#fff" stroke-width="0.55"/>
<path d="M488.61,269.18 A5.55,5.55 0 0 1 499.04,269.18" fill="none" stroke="#fff" stroke-width="0.8"/>
<circle cx="510.47" cy="270.58" r="8.1" fill="#000"/>
<circle cx="510.47" cy="270.58" r="7.05" fill="none" stroke="#fff" stroke-width="0.7"/>
<circle cx="510.47" cy="270.58" r="5.8" fill="none" stroke="#fff" stroke-width="0.55"/>
<path d="M505.26,269.18 A5.55,5.55 0 0 1 515.69,269.18" fill="none" stroke="#fff" stroke-width="0.8"/>
<circle cx="527.12" cy="270.58" r="8.1" fill="#000"/>
<circle cx="527.12" cy="270.58" r="7.05" fill="none" stroke="#fff" stroke-width="0.7"/>
<circle cx="527.12" cy="270.58" r="5.8" fill="none" stroke="#fff" stroke-width="0.55"/>
<path d="M521.91,269.18 A5.55,5.55 0 0 1 532.34,269.18" fill="none" stroke="#fff" stroke-width="0.8"/>
<circle cx="543.77" cy="270.58" r="8.1" fill="#000"/>
<circle cx="543.77" cy="270.58" r="7.05" fill="none" stroke="#fff" stroke-width="0.7"/>
<circle cx="543.77" cy="270.58" r="5.8" fill="none" stroke="#fff" stroke-width="0.55"/>
<path d="M538.56,269.18 A5.55,5.55 0 0 1 548.99,269.18" fill="none" stroke="#fff" stroke-width="0.8"/>
<circle cx="560.42" cy="270.58" r="8.1" fill="#000"/>
<circle cx="560.42" cy="270.58" r="7.05" fill="none" stroke="#fff" stroke-width="0.7"/>
<circle cx="560.42" cy="270.58" r="5.8" fill="none" stroke="#fff" stroke-width="0.55"/>
<path d="M555.21,269.18 A5.55,5.55 0 0 1 565.64,269.18" fill="none" stroke="#fff" stroke-width="0.8"/>
<circle cx="485.50" cy="285.00" r="8.1" fill="#000"/>
<circle cx="485.50" cy="285.00" r="7.05" fill="none" stroke="#fff" stroke-width="0.7"/>
<circle cx="485.50" cy="285.00" r="5.8" fill="none" stroke="#fff" stroke-width="0.55"/>
<path d="M480.28,283.60 A5.55,5.55 0 0 1 490.72,283.60" fill="none" stroke="#fff" stroke-width="0.8"/>
<circle cx="502.15" cy="285.00" r="8.1" fill="#000"/>
<circle cx="502.15" cy="285.00" r="7.05" fill="none" stroke="#fff" stroke-width="0.7"/>
<circle cx="502.15" cy="285.00" r="5.8" fill="none" stroke="#fff" stroke-width="0.55"/>
<path d="M496.93,283.60 A5.55,5.55 0 0 1 507.37,283.60" fill="none" stroke="#fff" stroke-width="0.8"/>
<circle cx="518.80" cy="285.00" r="8.1" fill="#000"/>
<circle cx="518.80" cy="285.00" r="7.05" fill="none" stroke="#fff" stroke-width="0.7"/>
<circle cx="518.80" cy="285.00" r="5.8" fill="none" stroke="#fff" stroke-width="0.55"/>
<path d="M513.58,283.60 A5.55,5.55 0 0 1 524.02,283.60" fill="none" stroke="#fff" stroke-width="0.8"/>
<circle cx="535.45" cy="285.00" r="8.1" fill="#000"/>
<circle cx="535.45" cy="285.00" r="7.05" fill="none" stroke="#fff" stroke-width="0.7"/>
<circle cx="535.45" cy="285.00" r="5.8" fill="none" stroke="#fff" stroke-width="0.55"/>
<path d="M530.23,283.60 A5.55,5.55 0 0 1 540.67,283.60" fill="none" stroke="#fff" stroke-width="0.8"/>
<circle cx="552.10" cy="285.00" r="8.1" fill="#000"/>
<circle cx="552.10" cy="285.00" r="7.05" fill="none" stroke="#fff" stroke-width="0.7"/>
<circle cx="552.10" cy="285.00" r="5.8" fill="none" stroke="#fff" stroke-width="0.55"/>
<path d="M546.88,283.60 A5.55,5.55 0 0 1 557.32,283.60" fill="none" stroke="#fff" stroke-width="0.8"/>
<circle cx="477.17" cy="299.42" r="8.1" fill="#000"/>
<circle cx="477.17" cy="299.42" r="7.05" fill="none" stroke="#fff" stroke-width="0.7"/>
<circle cx="477.17" cy="299.42" r="5.8" fill="none" stroke="#fff" stroke-width="0.55"/>
<path d="M471.96,298.02 A5.55,5.55 0 0 1 482.39,298.02" fill="none" stroke="#fff" stroke-width="0.8"/>
<circle cx="493.82" cy="299.42" r="8.1" fill="#000"/>
<circle cx="493.82" cy="299.42" r="7.05" fill="none" stroke="#fff" stroke-width="0.7"/>
<circle cx="493.82" cy="299.42" r="5.8" fill="none" stroke="#fff" stroke-width="0.55"/>
<path d="M488.61,298.02 A5.55,5.55 0 0 1 499.04,298.02" fill="none" stroke="#fff" stroke-width="0.8"/>
<circle cx="510.47" cy="299.42" r="8.1" fill="#000"/>
<circle cx="510.47" cy="299.42" r="7.05" fill="none" stroke="#fff" stroke-width="0.7"/>
<circle cx="510.47" cy="299.42" r="5.8" fill="none" stroke="#fff" stroke-width="0.55"/>
<path d="M505.26,298.02 A5.55,5.55 0 0 1 515.69,298.02" fill="none" stroke="#fff" stroke-width="0.8"/>
<circle cx="527.12" cy="299.42" r="8.1" fill="#000"/>
<circle cx="527.12" cy="299.42" r="7.05" fill="none" stroke="#fff" stroke-width="0.7"/>
<circle cx="527.12" cy="299.42" r="5.8" fill="none" stroke="#fff" stroke-width="0.55"/>
<path d="M521.91,298.02 A5.55,5.55 0 0 1 532.34,298.02" fill="none" stroke="#fff" stroke-width="0.8"/>
<circle cx="543.77" cy="299.42" r="8.1" fill="#000"/>
<circle cx="543.77" cy="299.42" r="7.05" fill="none" stroke="#fff" stroke-width="0.7"/>
<circle cx="543.77" cy="299.42" r="5.8" fill="none" stroke="#fff" stroke-width="0.55"/>
<path d="M538.56,298.02 A5.55,5.55 0 0 1 548.99,298.02" fill="none" stroke="#fff" stroke-width="0.8"/>
<circle cx="560.42" cy="299.42" r="8.1" fill="#000"/>
<circle cx="560.42" cy="299.42" r="7.05" fill="none" stroke="#fff" stroke-width="0.7"/>
<circle cx="560.42" cy="299.42" r="5.8" fill="none" stroke="#fff" stroke-width="0.55"/>
<path d="M555.21,298.02 A5.55,5.55 0 0 1 565.64,298.02" fill="none" stroke="#fff" stroke-width="0.8"/>
<circle cx="485.50" cy="313.84" r="8.1" fill="#000"/>
<circle cx="485.50" cy="313.84" r="7.05" fill="none" stroke="#fff" stroke-width="0.7"/>
<circle cx="485.50" cy="313.84" r="5.8" fill="none" stroke="#fff" stroke-width="0.55"/>
<path d="M480.28,312.44 A5.55,5.55 0 0 1 490.72,312.44" fill="none" stroke="#fff" stroke-width="0.8"/>
<circle cx="502.15" cy="313.84" r="8.1" fill="#000"/>
<circle cx="502.15" cy="313.84" r="7.05" fill="none" stroke="#fff" stroke-width="0.7"/>
<circle cx="502.15" cy="313.84" r="5.8" fill="none" stroke="#fff" stroke-width="0.55"/>
<path d="M496.93,312.44 A5.55,5.55 0 0 1 507.37,312.44" fill="none" stroke="#fff" stroke-width="0.8"/>
<circle cx="518.80" cy="313.84" r="8.1" fill="#000"/>
<circle cx="518.80" cy="313.84" r="7.05" fill="none" stroke="#fff" stroke-width="0.7"/>
<circle cx="518.80" cy="313.84" r="5.8" fill="none" stroke="#fff" stroke-width="0.55"/>
<path d="M513.58,312.44 A5.55,5.55 0 0 1 524.02,312.44" fill="none" stroke="#fff" stroke-width="0.8"/>
<circle cx="535.45" cy="313.84" r="8.1" fill="#000"/>
<circle cx="535.45" cy="313.84" r="7.05" fill="none" stroke="#fff" stroke-width="0.7"/>
<circle cx="535.45" cy="313.84" r="5.8" fill="none" stroke="#fff" stroke-width="0.55"/>
<path d="M530.23,312.44 A5.55,5.55 0 0 1 540.67,312.44" fill="none" stroke="#fff" stroke-width="0.8"/>
<circle cx="552.10" cy="313.84" r="8.1" fill="#000"/>
<circle cx="552.10" cy="313.84" r="7.05" fill="none" stroke="#fff" stroke-width="0.7"/>
<circle cx="552.10" cy="313.84" r="5.8" fill="none" stroke="#fff" stroke-width="0.55"/>
<path d="M546.88,312.44 A5.55,5.55 0 0 1 557.32,312.44" fill="none" stroke="#fff" stroke-width="0.8"/>
<circle cx="510.47" cy="328.26" r="8.1" fill="#000"/>
<circle cx="510.47" cy="328.26" r="7.05" fill="none" stroke="#fff" stroke-width="0.7"/>
<circle cx="510.47" cy="328.26" r="5.8" fill="none" stroke="#fff" stroke-width="0.55"/>
<path d="M505.26,326.86 A5.55,5.55 0 0 1 515.69,326.86" fill="none" stroke="#fff" stroke-width="0.8"/>
<circle cx="527.12" cy="328.26" r="8.1" fill="#000"/>
<circle cx="527.12" cy="328.26" r="7.05" fill="none" stroke="#fff" stroke-width="0.7"/>
<circle cx="527.12" cy="328.26" r="5.8" fill="none" stroke="#fff" stroke-width="0.55"/>
<path d="M521.91,326.86 A5.55,5.55 0 0 1 532.34,326.86" fill="none" stroke="#fff" stroke-width="0.8"/>
<line x1="675.40" y1="285.00" x2="812.20" y2="285.00" stroke="#222" stroke-width="1.0" stroke-dasharray="9 2 1.5 2"/>
<line x1="744.10" y1="221.50" x2="744.10" y2="348.40" stroke="#222" stroke-width="1.0" stroke-dasharray="9 2 1.5 2"/>
<polygon points="694.15,285.00 710.80,256.16 719.12,241.74 769.08,241.74 785.73,270.58 794.05,285.00 785.73,299.42 769.08,328.26 719.12,328.26 710.80,313.84" fill="#000"/>
<circle cx="719.12" cy="241.74" r="8.1" fill="#000"/>
<circle cx="719.12" cy="241.74" r="7.05" fill="none" stroke="#fff" stroke-width="0.7"/>
<circle cx="719.12" cy="241.74" r="5.8" fill="none" stroke="#fff" stroke-width="0.55"/>
<path d="M713.91,240.34 A5.55,5.55 0 0 1 724.34,240.34" fill="none" stroke="#fff" stroke-width="0.8"/>
<circle cx="735.77" cy="241.74" r="8.1" fill="#000"/>
<circle cx="735.77" cy="241.74" r="7.05" fill="none" stroke="#fff" stroke-width="0.7"/>
<circle cx="735.77" cy="241.74" r="5.8" fill="none" stroke="#fff" stroke-width="0.55"/>
<path d="M730.56,240.34 A5.55,5.55 0 0 1 740.99,240.34" fill="none" stroke="#fff" stroke-width="0.8"/>
<circle cx="752.43" cy="241.74" r="8.1" fill="#000"/>
<circle cx="752.43" cy="241.74" r="7.05" fill="none" stroke="#fff" stroke-width="0.7"/>
<circle cx="752.43" cy="241.74" r="5.8" fill="none" stroke="#fff" stroke-width="0.55"/>
<path d="M747.21,240.34 A5.55,5.55 0 0 1 757.64,240.34" fill="none" stroke="#fff" stroke-width="0.8"/>
<circle cx="769.08" cy="241.74" r="8.1" fill="#000"/>
<circle cx="769.08" cy="241.74" r="7.05" fill="none" stroke="#fff" stroke-width="0.7"/>
<circle cx="769.08" cy="241.74" r="5.8" fill="none" stroke="#fff" stroke-width="0.55"/>
<path d="M763.86,240.34 A5.55,5.55 0 0 1 774.29,240.34" fill="none" stroke="#fff" stroke-width="0.8"/>
<circle cx="710.80" cy="256.16" r="8.1" fill="#000"/>
<circle cx="710.80" cy="256.16" r="7.05" fill="none" stroke="#fff" stroke-width="0.7"/>
<circle cx="710.80" cy="256.16" r="5.8" fill="none" stroke="#fff" stroke-width="0.55"/>
<path d="M705.58,254.76 A5.55,5.55 0 0 1 716.02,254.76" fill="none" stroke="#fff" stroke-width="0.8"/>
<circle cx="727.45" cy="256.16" r="8.1" fill="#000"/>
<circle cx="727.45" cy="256.16" r="7.05" fill="none" stroke="#fff" stroke-width="0.7"/>
<circle cx="727.45" cy="256.16" r="5.8" fill="none" stroke="#fff" stroke-width="0.55"/>
<path d="M722.23,254.76 A5.55,5.55 0 0 1 732.67,254.76" fill="none" stroke="#fff" stroke-width="0.8"/>
<circle cx="744.10" cy="256.16" r="8.1" fill="#000"/>
<circle cx="744.10" cy="256.16" r="7.05" fill="none" stroke="#fff" stroke-width="0.7"/>
<circle cx="744.10" cy="256.16" r="5.8" fill="none" stroke="#fff" stroke-width="0.55"/>
<path d="M738.88,254.76 A5.55,5.55 0 0 1 749.32,254.76" fill="none" stroke="#fff" stroke-width="0.8"/>
<circle cx="760.75" cy="256.16" r="8.1" fill="#000"/>
<circle cx="760.75" cy="256.16" r="7.05" fill="none" stroke="#fff" stroke-width="0.7"/>
<circle cx="760.75" cy="256.16" r="5.8" fill="none" stroke="#fff" stroke-width="0.55"/>
<path d="M755.53,254.76 A5.55,5.55 0 0 1 765.97,254.76" fill="none" stroke="#fff" stroke-width="0.8"/>
<circle cx="777.40" cy="256.16" r="8.1" fill="#000"/>
<circle cx="777.40" cy="256.16" r="7.05" fill="none" stroke="#fff" stroke-width="0.7"/>
<circle cx="777.40" cy="256.16" r="5.8" fill="none" stroke="#fff" stroke-width="0.55"/>
<path d="M772.18,254.76 A5.55,5.55 0 0 1 782.62,254.76" fill="none" stroke="#fff" stroke-width="0.8"/>
<circle cx="702.48" cy="270.58" r="8.1" fill="#000"/>
<circle cx="702.48" cy="270.58" r="7.05" fill="none" stroke="#fff" stroke-width="0.7"/>
<circle cx="702.48" cy="270.58" r="5.8" fill="none" stroke="#fff" stroke-width="0.55"/>
<path d="M697.26,269.18 A5.55,5.55 0 0 1 707.69,269.18" fill="none" stroke="#fff" stroke-width="0.8"/>
<circle cx="719.12" cy="270.58" r="8.1" fill="#000"/>
<circle cx="719.12" cy="270.58" r="7.05" fill="none" stroke="#fff" stroke-width="0.7"/>
<circle cx="719.12" cy="270.58" r="5.8" fill="none" stroke="#fff" stroke-width="0.55"/>
<path d="M713.91,269.18 A5.55,5.55 0 0 1 724.34,269.18" fill="none" stroke="#fff" stroke-width="0.8"/>
<circle cx="735.77" cy="270.58" r="8.1" fill="#000"/>
<circle cx="735.77" cy="270.58" r="7.05" fill="none" stroke="#fff" stroke-width="0.7"/>
<circle cx="735.77" cy="270.58" r="5.8" fill="none" stroke="#fff" stroke-width="0.55"/>
<path d="M730.56,269.18 A5.55,5.55 0 0 1 740.99,269.18" fill="none" stroke="#fff" stroke-width="0.8"/>
<circle cx="752.43" cy="270.58" r="8.1" fill="#000"/>
<circle cx="752.43" cy="270.58" r="7.05" fill="none" stroke="#fff" stroke-width="0.7"/>
<circle cx="752.43" cy="270.58" r="5.8" fill="none" stroke="#fff" stroke-width="0.55"/>
<path d="M747.21,269.18 A5.55,5.55 0 0 1 757.64,269.18" fill="none" stroke="#fff" stroke-width="0.8"/>
<circle cx="769.08" cy="270.58" r="8.1" fill="#000"/>
<circle cx="769.08" cy="270.58" r="7.05" fill="none" stroke="#fff" stroke-width="0.7"/>
<circle cx="769.08" cy="270.58" r="5.8" fill="none" stroke="#fff" stroke-width="0.55"/>
<path d="M763.86,269.18 A5.55,5.55 0 0 1 774.29,269.18" fill="none" stroke="#fff" stroke-width="0.8"/>
<circle cx="785.73" cy="270.58" r="8.1" fill="#000"/>
<circle cx="785.73" cy="270.58" r="7.05" fill="none" stroke="#fff" stroke-width="0.7"/>
<circle cx="785.73" cy="270.58" r="5.8" fill="none" stroke="#fff" stroke-width="0.55"/>
<path d="M780.51,269.18 A5.55,5.55 0 0 1 790.94,269.18" fill="none" stroke="#fff" stroke-width="0.8"/>
<circle cx="694.15" cy="285.00" r="8.1" fill="#000"/>
<circle cx="694.15" cy="285.00" r="7.05" fill="none" stroke="#fff" stroke-width="0.7"/>
<circle cx="694.15" cy="285.00" r="5.8" fill="none" stroke="#fff" stroke-width="0.55"/>
<path d="M688.93,283.60 A5.55,5.55 0 0 1 699.37,283.60" fill="none" stroke="#fff" stroke-width="0.8"/>
<circle cx="710.80" cy="285.00" r="8.1" fill="#000"/>
<circle cx="710.80" cy="285.00" r="7.05" fill="none" stroke="#fff" stroke-width="0.7"/>
<circle cx="710.80" cy="285.00" r="5.8" fill="none" stroke="#fff" stroke-width="0.55"/>
<path d="M705.58,283.60 A5.55,5.55 0 0 1 716.02,283.60" fill="none" stroke="#fff" stroke-width="0.8"/>
<circle cx="727.45" cy="285.00" r="8.1" fill="#000"/>
<circle cx="727.45" cy="285.00" r="7.05" fill="none" stroke="#fff" stroke-width="0.7"/>
<circle cx="727.45" cy="285.00" r="5.8" fill="none" stroke="#fff" stroke-width="0.55"/>
<path d="M722.23,283.60 A5.55,5.55 0 0 1 732.67,283.60" fill="none" stroke="#fff" stroke-width="0.8"/>
<circle cx="744.10" cy="285.00" r="8.1" fill="#000"/>
<circle cx="744.10" cy="285.00" r="7.05" fill="none" stroke="#fff" stroke-width="0.7"/>
<circle cx="744.10" cy="285.00" r="5.8" fill="none" stroke="#fff" stroke-width="0.55"/>
<path d="M738.88,283.60 A5.55,5.55 0 0 1 749.32,283.60" fill="none" stroke="#fff" stroke-width="0.8"/>
<circle cx="760.75" cy="285.00" r="8.1" fill="#000"/>
<circle cx="760.75" cy="285.00" r="7.05" fill="none" stroke="#fff" stroke-width="0.7"/>
<circle cx="760.75" cy="285.00" r="5.8" fill="none" stroke="#fff" stroke-width="0.55"/>
<path d="M755.53,283.60 A5.55,5.55 0 0 1 765.97,283.60" fill="none" stroke="#fff" stroke-width="0.8"/>
<circle cx="777.40" cy="285.00" r="8.1" fill="#000"/>
<circle cx="777.40" cy="285.00" r="7.05" fill="none" stroke="#fff" stroke-width="0.7"/>
<circle cx="777.40" cy="285.00" r="5.8" fill="none" stroke="#fff" stroke-width="0.55"/>
<path d="M772.18,283.60 A5.55,5.55 0 0 1 782.62,283.60" fill="none" stroke="#fff" stroke-width="0.8"/>
<circle cx="794.05" cy="285.00" r="8.1" fill="#000"/>
<circle cx="794.05" cy="285.00" r="7.05" fill="none" stroke="#fff" stroke-width="0.7"/>
<circle cx="794.05" cy="285.00" r="5.8" fill="none" stroke="#fff" stroke-width="0.55"/>
<path d="M788.83,283.60 A5.55,5.55 0 0 1 799.27,283.60" fill="none" stroke="#fff" stroke-width="0.8"/>
<circle cx="702.48" cy="299.42" r="8.1" fill="#000"/>
<circle cx="702.48" cy="299.42" r="7.05" fill="none" stroke="#fff" stroke-width="0.7"/>
<circle cx="702.48" cy="299.42" r="5.8" fill="none" stroke="#fff" stroke-width="0.55"/>
<path d="M697.26,298.02 A5.55,5.55 0 0 1 707.69,298.02" fill="none" stroke="#fff" stroke-width="0.8"/>
<circle cx="719.12" cy="299.42" r="8.1" fill="#000"/>
<circle cx="719.12" cy="299.42" r="7.05" fill="none" stroke="#fff" stroke-width="0.7"/>
<circle cx="719.12" cy="299.42" r="5.8" fill="none" stroke="#fff" stroke-width="0.55"/>
<path d="M713.91,298.02 A5.55,5.55 0 0 1 724.34,298.02" fill="none" stroke="#fff" stroke-width="0.8"/>
<circle cx="735.77" cy="299.42" r="8.1" fill="#000"/>
<circle cx="735.77" cy="299.42" r="7.05" fill="none" stroke="#fff" stroke-width="0.7"/>
<circle cx="735.77" cy="299.42" r="5.8" fill="none" stroke="#fff" stroke-width="0.55"/>
<path d="M730.56,298.02 A5.55,5.55 0 0 1 740.99,298.02" fill="none" stroke="#fff" stroke-width="0.8"/>
<circle cx="752.43" cy="299.42" r="8.1" fill="#000"/>
<circle cx="752.43" cy="299.42" r="7.05" fill="none" stroke="#fff" stroke-width="0.7"/>
<circle cx="752.43" cy="299.42" r="5.8" fill="none" stroke="#fff" stroke-width="0.55"/>
<path d="M747.21,298.02 A5.55,5.55 0 0 1 757.64,298.02" fill="none" stroke="#fff" stroke-width="0.8"/>
<circle cx="769.08" cy="299.42" r="8.1" fill="#000"/>
<circle cx="769.08" cy="299.42" r="7.05" fill="none" stroke="#fff" stroke-width="0.7"/>
<circle cx="769.08" cy="299.42" r="5.8" fill="none" stroke="#fff" stroke-width="0.55"/>
<path d="M763.86,298.02 A5.55,5.55 0 0 1 774.29,298.02" fill="none" stroke="#fff" stroke-width="0.8"/>
<circle cx="785.73" cy="299.42" r="8.1" fill="#000"/>
<circle cx="785.73" cy="299.42" r="7.05" fill="none" stroke="#fff" stroke-width="0.7"/>
<circle cx="785.73" cy="299.42" r="5.8" fill="none" stroke="#fff" stroke-width="0.55"/>
<path d="M780.51,298.02 A5.55,5.55 0 0 1 790.94,298.02" fill="none" stroke="#fff" stroke-width="0.8"/>
<circle cx="710.80" cy="313.84" r="8.1" fill="#000"/>
<circle cx="710.80" cy="313.84" r="7.05" fill="none" stroke="#fff" stroke-width="0.7"/>
<circle cx="710.80" cy="313.84" r="5.8" fill="none" stroke="#fff" stroke-width="0.55"/>
<path d="M705.58,312.44 A5.55,5.55 0 0 1 716.02,312.44" fill="none" stroke="#fff" stroke-width="0.8"/>
<circle cx="727.45" cy="313.84" r="8.1" fill="#000"/>
<circle cx="727.45" cy="313.84" r="7.05" fill="none" stroke="#fff" stroke-width="0.7"/>
<circle cx="727.45" cy="313.84" r="5.8" fill="none" stroke="#fff" stroke-width="0.55"/>
<path d="M722.23,312.44 A5.55,5.55 0 0 1 732.67,312.44" fill="none" stroke="#fff" stroke-width="0.8"/>
<circle cx="744.10" cy="313.84" r="8.1" fill="#000"/>
<circle cx="744.10" cy="313.84" r="7.05" fill="none" stroke="#fff" stroke-width="0.7"/>
<circle cx="744.10" cy="313.84" r="5.8" fill="none" stroke="#fff" stroke-width="0.55"/>
<path d="M738.88,312.44 A5.55,5.55 0 0 1 749.32,312.44" fill="none" stroke="#fff" stroke-width="0.8"/>
<circle cx="760.75" cy="313.84" r="8.1" fill="#000"/>
<circle cx="760.75" cy="313.84" r="7.05" fill="none" stroke="#fff" stroke-width="0.7"/>
<circle cx="760.75" cy="313.84" r="5.8" fill="none" stroke="#fff" stroke-width="0.55"/>
<path d="M755.53,312.44 A5.55,5.55 0 0 1 765.97,312.44" fill="none" stroke="#fff" stroke-width="0.8"/>
<circle cx="777.40" cy="313.84" r="8.1" fill="#000"/>
<circle cx="777.40" cy="313.84" r="7.05" fill="none" stroke="#fff" stroke-width="0.7"/>
<circle cx="777.40" cy="313.84" r="5.8" fill="none" stroke="#fff" stroke-width="0.55"/>
<path d="M772.18,312.44 A5.55,5.55 0 0 1 782.62,312.44" fill="none" stroke="#fff" stroke-width="0.8"/>
<circle cx="719.12" cy="328.26" r="8.1" fill="#000"/>
<circle cx="719.12" cy="328.26" r="7.05" fill="none" stroke="#fff" stroke-width="0.7"/>
<circle cx="719.12" cy="328.26" r="5.8" fill="none" stroke="#fff" stroke-width="0.55"/>
<path d="M713.91,326.86 A5.55,5.55 0 0 1 724.34,326.86" fill="none" stroke="#fff" stroke-width="0.8"/>
<circle cx="735.77" cy="328.26" r="8.1" fill="#000"/>
<circle cx="735.77" cy="328.26" r="7.05" fill="none" stroke="#fff" stroke-width="0.7"/>
<circle cx="735.77" cy="328.26" r="5.8" fill="none" stroke="#fff" stroke-width="0.55"/>
<path d="M730.56,326.86 A5.55,5.55 0 0 1 740.99,326.86" fill="none" stroke="#fff" stroke-width="0.8"/>
<circle cx="752.43" cy="328.26" r="8.1" fill="#000"/>
<circle cx="752.43" cy="328.26" r="7.05" fill="none" stroke="#fff" stroke-width="0.7"/>
<circle cx="752.43" cy="328.26" r="5.8" fill="none" stroke="#fff" stroke-width="0.55"/>
<path d="M747.21,326.86 A5.55,5.55 0 0 1 757.64,326.86" fill="none" stroke="#fff" stroke-width="0.8"/>
<circle cx="769.08" cy="328.26" r="8.1" fill="#000"/>
<circle cx="769.08" cy="328.26" r="7.05" fill="none" stroke="#fff" stroke-width="0.7"/>
<circle cx="769.08" cy="328.26" r="5.8" fill="none" stroke="#fff" stroke-width="0.55"/>
<path d="M763.86,326.86 A5.55,5.55 0 0 1 774.29,326.86" fill="none" stroke="#fff" stroke-width="0.8"/>
<text x="412.5" y="233.3" font-size="6.88" textLength="46.7" lengthAdjust="spacingAndGlyphs" fill="#3c3c3c" >31根钢管组焊而成</text>
<line x1="411.40" y1="236.30" x2="459.50" y2="236.30" stroke="#000" stroke-width="1.0" />
<line x1="459.50" y1="236.30" x2="477.40" y2="256.50" stroke="#000" stroke-width="1.0" />
<text x="404.9" y="324.5" font-size="6.67" textLength="51.4" lengthAdjust="spacingAndGlyphs" fill="#3c3c3c" >未镀PE的环氧钢绞线</text>
<line x1="402.30" y1="328.00" x2="456.80" y2="328.00" stroke="#000" stroke-width="1.0" />
<line x1="456.80" y1="328.00" x2="471.30" y2="306.40" stroke="#000" stroke-width="1.0" />
<text x="575.2" y="233.1" font-size="7.31" textLength="22.6" lengthAdjust="spacingAndGlyphs" fill="#3c3c3c" >导向钢管</text>
<line x1="571.90" y1="236.30" x2="609.60" y2="236.30" stroke="#000" stroke-width="1.0" />
<line x1="571.90" y1="236.30" x2="558.70" y2="250.60" stroke="#000" stroke-width="1.0" />
<text x="574.5" y="244.7" font-size="6.24" textLength="32.0" lengthAdjust="spacingAndGlyphs" fill="#3c3c3c" >外径：   28mm</text>
<text x="574.5" y="254.8" font-size="6.24" textLength="31.8" lengthAdjust="spacingAndGlyphs" fill="#3c3c3c" >内径：   22mm</text>
<text x="574.5" y="264.7" font-size="6.45" textLength="29.5" lengthAdjust="spacingAndGlyphs" fill="#3c3c3c" >壁厚：3.0mm</text>
<text x="637.3" y="233.3" font-size="6.88" textLength="46.1" lengthAdjust="spacingAndGlyphs" fill="#3c3c3c" >37根钢管组焊而成</text>
<line x1="637.30" y1="236.30" x2="684.60" y2="236.30" stroke="#000" stroke-width="1.0" />
<line x1="684.60" y1="236.30" x2="701.90" y2="255.00" stroke="#000" stroke-width="1.0" />
<text x="629.2" y="324.5" font-size="6.67" textLength="52.6" lengthAdjust="spacingAndGlyphs" fill="#3c3c3c" >未镀PE的环氧钢绞线</text>
<line x1="629.00" y1="328.00" x2="682.30" y2="328.00" stroke="#000" stroke-width="1.0" />
<line x1="682.30" y1="328.00" x2="698.40" y2="305.70" stroke="#000" stroke-width="1.0" />
<text x="800.7" y="233.1" font-size="7.31" textLength="22.6" lengthAdjust="spacingAndGlyphs" fill="#3c3c3c" >导向钢管</text>
<line x1="797.30" y1="236.30" x2="834.80" y2="236.30" stroke="#000" stroke-width="1.0" />
<line x1="797.30" y1="236.30" x2="783.80" y2="249.60" stroke="#000" stroke-width="1.0" />
<text x="800.0" y="244.7" font-size="6.24" textLength="31.3" lengthAdjust="spacingAndGlyphs" fill="#3c3c3c" >外径：   28mm</text>
<text x="800.0" y="254.8" font-size="6.24" textLength="31.1" lengthAdjust="spacingAndGlyphs" fill="#3c3c3c" >内径：   22mm</text>
<text x="800.0" y="264.7" font-size="6.45" textLength="28.8" lengthAdjust="spacingAndGlyphs" fill="#3c3c3c" >壁厚：3.0mm</text>
<text x="483.6" y="369.7" font-size="8.60" textLength="8.7" lengthAdjust="spacingAndGlyphs" fill="#111" >注：</text>
<text x="490.0" y="381.7" font-size="8.60" textLength="294.5" lengthAdjust="spacingAndGlyphs" fill="#111" font-weight="500">1.本图尺寸均以mm计，尺寸标注中括号外尺寸适用3115.24钢绞线，括号内尺寸适用于3715.24钢绞线。</text>
<text x="490.0" y="393.7" font-size="8.60" textLength="345.9" lengthAdjust="spacingAndGlyphs" fill="#111" font-weight="500">2.斜拉索采用环氧喷涂钢绞线（中心丝与边丝各钢丝外表均单独形成环氧树脂涂膜）单层无粘接筋，单根钢绞线规格直径</text>
<text x="477.3" y="405.7" font-size="8.60" textLength="337.9" lengthAdjust="spacingAndGlyphs" fill="#111" font-weight="500">为15.24mm，钢绞线标准强度fpk=1860MPa，采用两端张拉，施工时，拉索工作长度应根据实际采用的张拉千斤顶调整。</text>
<text x="490.0" y="417.7" font-size="8.60" textLength="343.5" lengthAdjust="spacingAndGlyphs" fill="#111" font-weight="500">3.本斜拉索锚具采用可换索式M250AT-31和M250AT-37群锚体系,斜拉索、锚具、防护罩、锚垫板高强螺栓以及附属构件等</text>
<text x="476.6" y="429.8" font-size="8.60" textLength="90.4" lengthAdjust="spacingAndGlyphs" fill="#111" font-weight="500">应配套供应,本图未分开列出。</text>
<text x="489.9" y="441.8" font-size="8.60" textLength="205.8" lengthAdjust="spacingAndGlyphs" fill="#111" font-weight="500">4.为保护斜拉索不受损伤，每索下端离梁面2.5m高范围外包不锈钢管。</text>
<text x="489.9" y="453.8" font-size="8.60" textLength="347.2" lengthAdjust="spacingAndGlyphs" fill="#111" font-weight="500">5.斜拉索裸索部分的防护：塔上锚固筒灌注环氧砂浆，预埋管与索体之间灌注防腐油脂，环氧砂浆采用环氧灌浆泵灌注。</text>
<text x="489.9" y="465.8" font-size="8.60" textLength="158.0" lengthAdjust="spacingAndGlyphs" fill="#111" font-weight="500">6.在所有斜拉索张拉结束后就位索塔两侧的抗滑锚筒。</text>
<text x="489.9" y="477.8" font-size="8.60" textLength="146.1" lengthAdjust="spacingAndGlyphs" fill="#111" font-weight="500">7.塔上锚固装置在二期恒载完成后灌注环氧砂浆。</text>
<text x="489.9" y="489.9" font-size="8.60" textLength="342.6" lengthAdjust="spacingAndGlyphs" fill="#111" font-weight="500">8.斜拉索锚具含保护罩、锚垫板、索箍、锚筒、减震装置、锚筒内环氧砂浆、防水罩及锚具传统的一些零部件，本次不单</text>
<text x="477.3" y="501.9" font-size="8.60" textLength="59.7" lengthAdjust="spacingAndGlyphs" fill="#111" font-weight="500">独计列这部分数量。</text>
<text x="489.9" y="513.9" font-size="8.60" textLength="90.1" lengthAdjust="spacingAndGlyphs" fill="#111" font-weight="500">9.斜拉索的张拉应做如下控制：</text>
<text x="497.4" y="525.9" font-size="8.60" textLength="183.4" lengthAdjust="spacingAndGlyphs" fill="#111" font-weight="500">(1)控制每根斜拉索各股钢绞线的离散误差不大于理论值的3%。</text>
<text x="497.4" y="537.9" font-size="8.60" textLength="187.1" lengthAdjust="spacingAndGlyphs" fill="#111" font-weight="500">(2)横桥向相同编号斜拉索之间差值不大于整索索力理论值的1%。</text>
<text x="497.4" y="550.0" font-size="8.60" textLength="123.3" lengthAdjust="spacingAndGlyphs" fill="#111" font-weight="500">(3)斜拉索整索索力误差不大于理论索力的2%。</text>
<text x="489.9" y="562.0" font-size="8.60" textLength="116.3" lengthAdjust="spacingAndGlyphs" fill="#111" font-weight="500">10.预埋管内固体防腐油脂数量：32  。</text>
<g transform="translate(103.7,227.65) rotate(-14.7)">
<line x1="0.00" y1="-18.80" x2="0.00" y2="18.80" stroke="#000" stroke-width="2.2" />
<line x1="0.00" y1="-18.80" x2="26.00" y2="-18.80" stroke="#000" stroke-width="1.2" />
<line x1="0.00" y1="18.80" x2="26.00" y2="18.80" stroke="#000" stroke-width="1.2" />
<line x1="26.00" y1="-19.00" x2="26.00" y2="19.00" stroke="#000" stroke-width="0.8" />
<line x1="4.00" y1="-8.00" x2="60.00" y2="-8.00" stroke="#000" stroke-width="2.0" />
<line x1="0.00" y1="-1.20" x2="30.00" y2="-1.20" stroke="#000" stroke-width="0.9" />
<line x1="6.00" y1="12.80" x2="50.00" y2="12.80" stroke="#000" stroke-width="0.9" />
<rect x="28.00" y="-21.00" width="19.00" height="7.50" fill="url(#hx)" stroke="#000" stroke-width="0.9"/>
<rect x="28.00" y="-12.50" width="19.00" height="6.50" fill="url(#hx)" stroke="#000" stroke-width="0.9"/>
<rect x="29.00" y="-2.50" width="18.00" height="18.50" fill="url(#hx)" stroke="#000" stroke-width="0.9"/>
<rect x="31.00" y="16.00" width="16.00" height="5.00" fill="url(#hx)" stroke="#000" stroke-width="0.9"/>
<rect x="47.00" y="-32.00" width="8.00" height="11.50" fill="url(#hx)" stroke="#000" stroke-width="0.9"/>
<rect x="49.00" y="17.00" width="6.00" height="13.50" fill="url(#hx)" stroke="#000" stroke-width="0.9"/>
<line x1="47.00" y1="-32.00" x2="47.00" y2="30.50" stroke="#000" stroke-width="0.9" />
<line x1="55.00" y1="-32.00" x2="55.00" y2="30.50" stroke="#000" stroke-width="0.9" />
<line x1="49.50" y1="-20.80" x2="205.00" y2="-20.80" stroke="#000" stroke-width="1.6" />
<line x1="49.50" y1="-14.30" x2="205.00" y2="-14.30" stroke="#000" stroke-width="1.6" />
<line x1="49.50" y1="13.80" x2="205.00" y2="13.80" stroke="#000" stroke-width="1.6" />
<line x1="49.50" y1="19.80" x2="205.00" y2="19.80" stroke="#000" stroke-width="1.6" />
<rect x="47.50" y="-12.20" width="85.50" height="24.20" fill="#fff"/>
<path d="M47.8,-10.0L47.8,-12.1L50.6,-10.7zM50.3,-10.9L51.7,-12.1L52.4,-11.0zM60.0,-10.1L58.0,-10.3L59.6,-11.6zM64.3,-12.7L66.1,-11.7L64.2,-10.8zM66.8,-12.9L69.5,-11.3L65.9,-10.1zM74.2,-10.3L71.0,-11.5L73.2,-13.3zM81.5,-12.3L84.6,-10.6L81.5,-9.8zM88.0,-12.5L88.9,-11.3L87.0,-11.1zM88.8,-11.2L91.8,-11.3L90.3,-9.5zM94.6,-12.3L93.2,-10.3L92.0,-11.5zM93.8,-12.2L96.5,-12.4L95.8,-10.3zM105.5,-12.0L107.2,-11.8L106.3,-10.4zM109.2,-11.6L107.9,-10.8L107.3,-12.2zM112.8,-10.7L112.9,-12.6L115.1,-11.1zM117.7,-10.7L115.8,-10.8L116.7,-12.1zM116.9,-11.9L120.1,-13.3L119.9,-9.8zM125.1,-9.9L122.9,-11.2L125.1,-12.0zM128.9,-11.6L125.4,-10.1L126.0,-13.0zM128.4,-9.8L128.2,-11.9L131.1,-11.2zM52.4,-8.2L50.9,-9.6L53.2,-9.7zM60.6,-9.6L61.3,-8.0L59.0,-8.6zM62.7,-10.8L65.4,-8.8L61.8,-7.5zM68.9,-10.9L72.6,-9.5L68.6,-8.0zM75.0,-7.7L73.5,-9.9L76.4,-10.1zM79.9,-9.9L78.7,-7.6L77.1,-10.1zM79.6,-8.5L80.4,-9.7L81.5,-8.6zM81.5,-9.8L84.8,-10.5L83.7,-7.7zM85.7,-7.1L84.0,-9.0L87.4,-9.0zM90.1,-10.0L92.4,-8.6L89.6,-7.7zM100.4,-8.8L97.8,-8.4L98.3,-10.5zM104.8,-7.2L106.4,-10.2L108.3,-7.0zM108.3,-8.1L108.0,-10.3L110.9,-9.4zM118.3,-7.5L116.6,-9.8L120.5,-9.9zM123.2,-9.0L122.1,-7.5L121.2,-9.1zM126.8,-7.9L129.1,-10.2L130.4,-7.2zM132.6,-7.8L130.7,-9.4L133.6,-10.2zM47.8,-5.2L46.8,-8.0L50.1,-7.6zM50.9,-8.0L51.9,-6.8L50.4,-6.5zM51.8,-5.3L54.0,-7.8L55.1,-4.7zM62.4,-6.3L60.3,-6.4L61.1,-7.7zM65.5,-6.5L66.8,-8.0L67.9,-6.1zM72.6,-6.5L74.7,-7.9L75.3,-6.0zM76.0,-6.6L76.4,-8.0L78.0,-7.1zM93.6,-8.2L93.2,-5.7L91.1,-7.4zM98.4,-6.4L95.7,-7.0L97.5,-8.3zM105.2,-4.8L103.3,-6.7L106.8,-7.4zM110.5,-8.3L111.8,-5.7L108.5,-6.3zM111.7,-5.5L111.2,-8.3L114.1,-7.9zM116.7,-6.5L118.3,-8.1L118.9,-5.6zM126.3,-5.0L123.5,-7.5L126.9,-8.5zM126.2,-6.1L130.0,-7.1L129.0,-4.4zM131.6,-6.1L130.1,-5.4L130.1,-6.8zM51.0,-4.4L47.4,-3.2L48.3,-6.1zM52.1,-5.4L56.2,-5.5L54.2,-2.5zM56.2,-3.1L55.7,-6.3L58.6,-5.6zM60.7,-4.6L58.5,-3.2L58.5,-5.3zM62.8,-3.5L65.6,-5.5L66.1,-2.8zM69.3,-5.4L70.3,-3.4L68.4,-3.5zM72.3,-4.6L75.2,-6.4L75.1,-2.9zM79.2,-3.8L77.1,-3.7L77.8,-5.3zM81.8,-3.4L82.4,-5.7L84.7,-4.5zM83.8,-4.7L86.7,-3.6L84.9,-2.3zM89.1,-4.9L86.8,-3.4L86.8,-5.7zM94.3,-4.7L92.5,-3.0L92.0,-5.1zM94.9,-4.7L97.0,-5.2L96.2,-3.6zM103.8,-3.1L102.8,-4.7L104.9,-4.4zM104.0,-3.8L104.7,-6.1L107.0,-4.2zM106.4,-6.0L110.1,-4.2L107.0,-2.8zM113.0,-5.7L115.5,-4.5L113.2,-3.2zM115.8,-3.0L115.8,-4.5L117.4,-3.6zM121.2,-2.0L118.8,-4.0L122.9,-4.4zM123.8,-2.7L122.4,-4.0L124.7,-4.2zM128.2,-4.9L126.9,-3.6L125.8,-5.2zM55.7,-1.4L55.1,-2.6L56.9,-2.1zM58.8,-2.5L58.7,-0.3L56.7,-1.2zM61.4,-0.3L58.4,-2.1L62.6,-2.9zM65.7,-0.7L64.1,-3.8L68.0,-2.8zM75.5,-1.2L77.7,-2.2L77.2,-0.4zM80.6,-2.8L79.3,-0.9L77.9,-3.3zM86.0,-1.4L82.6,-1.0L84.5,-3.8zM85.8,-1.2L86.3,-3.9L88.3,-2.1zM88.9,-2.2L90.8,-2.9L90.7,-1.5zM100.8,-1.4L98.7,-2.5L100.7,-3.2zM109.2,-3.9L108.4,-0.7L106.0,-1.9zM107.7,-3.3L112.1,-2.7L110.0,-0.5zM115.0,-2.6L113.3,-0.3L111.6,-3.2zM115.7,-1.4L114.1,-2.3L116.2,-2.9zM117.3,-3.3L119.4,-2.5L117.3,-1.3zM120.8,-1.1L119.0,-1.2L120.1,-2.4zM121.4,-1.6L122.6,-4.0L124.9,-1.9zM50.6,0.1L52.4,-0.1L51.4,1.1zM54.2,1.6L51.5,0.9L53.9,-0.7zM58.8,-0.5L56.6,1.6L54.9,-1.0zM60.3,0.6L59.4,1.8L58.7,0.3zM61.9,2.4L59.5,0.3L63.4,0.1zM62.8,-0.1L65.2,-1.1L65.3,0.9zM72.8,0.8L74.7,-1.3L75.9,0.9zM80.5,0.7L81.3,-0.6L82.6,0.9zM86.3,0.7L87.8,-0.1L87.5,1.6zM90.1,0.8L94.3,-0.5L93.1,2.6zM101.2,0.8L103.1,-0.1L103.5,1.6zM109.4,2.0L105.9,1.3L108.5,-0.7zM116.6,1.1L118.3,-1.2L119.8,1.8zM121.9,0.6L119.1,2.1L119.1,-0.6zM122.0,-0.9L124.0,-0.6L122.6,0.7zM128.0,0.1L125.6,1.4L125.2,-1.4zM126.2,-0.6L129.1,-0.8L127.5,1.6zM51.4,1.9L53.0,2.5L51.8,3.4zM60.1,3.1L57.7,3.2L58.2,1.8zM61.0,2.6L63.2,2.9L61.7,4.2zM66.3,2.6L63.6,2.8L65.0,1.2zM70.7,3.6L68.6,3.6L69.4,1.9zM79.6,2.4L77.6,4.2L77.0,1.3zM81.3,1.8L78.7,3.9L77.7,1.5zM81.5,1.2L85.3,2.4L82.0,4.1zM94.4,1.9L93.4,3.2L92.2,2.0zM97.0,4.1L98.1,1.5L99.9,3.6zM104.6,3.9L102.6,3.9L104.2,2.3zM108.6,3.8L106.0,2.0L109.4,1.0zM108.9,3.6L109.4,0.9L111.9,3.3zM120.7,3.7L116.6,3.1L118.4,1.0zM124.0,4.2L121.0,2.5L124.2,1.2zM130.3,1.3L132.9,3.5L129.4,4.0zM51.4,6.5L50.7,4.6L52.7,5.0zM52.8,5.2L55.7,4.7L54.6,6.8zM58.0,4.0L57.7,5.7L56.1,4.6zM65.6,3.3L65.9,5.8L62.6,4.9zM66.5,5.7L66.2,4.1L68.3,5.1zM74.7,4.5L76.6,4.8L75.3,6.3zM76.8,2.9L79.6,4.7L76.0,5.6zM83.1,4.0L84.8,6.1L81.8,6.5zM90.7,3.9L91.3,6.1L88.8,5.4zM91.3,5.7L93.0,3.4L94.1,6.0zM99.2,6.8L96.5,5.3L99.6,4.6zM109.7,6.4L106.2,5.0L108.5,3.6zM109.7,5.1L110.5,3.9L111.4,5.3zM115.4,4.1L113.2,6.3L111.7,4.0zM116.8,3.9L117.3,5.6L115.5,5.1zM117.4,6.6L118.1,3.3L121.0,5.8zM123.0,6.0L120.0,4.9L122.1,3.6zM123.2,5.2L124.2,3.7L125.7,4.9zM125.4,4.9L127.3,3.7L127.5,5.7zM54.0,8.3L53.8,5.6L57.1,7.6zM61.8,7.4L65.3,6.8L64.4,9.2zM67.3,8.2L65.1,7.6L66.4,6.3zM66.8,6.6L70.0,6.2L69.5,8.0zM76.2,8.0L72.0,8.0L74.2,5.3zM79.9,7.1L79.4,9.1L77.2,7.1zM84.3,8.9L81.8,6.9L85.2,6.1zM84.8,8.7L86.4,6.0L88.7,8.2zM90.2,6.0L93.3,7.1L91.5,8.6zM94.2,8.6L93.5,7.4L95.5,7.4zM111.6,8.2L111.3,6.0L113.9,7.1zM121.6,6.2L119.0,8.0L118.4,5.9zM126.1,7.8L122.7,6.6L124.5,5.2zM128.2,8.5L126.5,5.9L129.5,5.7zM56.6,7.6L57.3,9.9L53.9,9.4zM59.0,9.6L61.2,7.7L62.3,9.6zM69.8,9.6L68.2,10.5L68.3,8.9zM75.1,8.9L74.4,11.0L72.5,9.1zM78.8,8.0L78.6,10.7L76.4,10.0zM105.5,11.0L103.0,9.8L105.6,8.3zM107.9,10.6L108.2,7.6L111.8,9.9zM116.3,7.6L115.5,10.9L112.4,8.5zM117.2,8.1L118.4,11.4L114.6,10.0zM120.6,9.6L118.7,9.8L119.6,8.1zM125.9,9.1L128.8,10.5L126.2,11.4zM132.3,9.5L129.4,11.4L128.1,8.5z" fill="none" stroke="#000" stroke-width="0.65"/>
<path d="M61.2,-11.1a0.6,0.6 0 1 0 1.3,0a0.6,0.6 0 1 0 -1.3,0M69.3,-10.7a0.6,0.6 0 1 0 1.2,0a0.6,0.6 0 1 0 -1.2,0M74.4,-10.9a0.9,0.9 0 1 0 1.8,0a0.9,0.9 0 1 0 -1.8,0M76.7,-11.0a0.7,0.7 0 1 0 1.5,0a0.7,0.7 0 1 0 -1.5,0M84.6,-11.3a0.5,0.5 0 1 0 0.9,0a0.5,0.5 0 1 0 -0.9,0M97.2,-11.4a0.9,0.9 0 1 0 1.9,0a0.9,0.9 0 1 0 -1.9,0M100.2,-11.2a0.8,0.8 0 1 0 1.6,0a0.8,0.8 0 1 0 -1.6,0M101.9,-10.7a0.9,0.9 0 1 0 1.8,0a0.9,0.9 0 1 0 -1.8,0M130.4,-11.5a0.9,0.9 0 1 0 1.9,0a0.9,0.9 0 1 0 -1.9,0M54.4,-8.9a0.8,0.8 0 1 0 1.7,0a0.8,0.8 0 1 0 -1.7,0M64.1,-8.4a0.5,0.5 0 1 0 1.0,0a0.5,0.5 0 1 0 -1.0,0M67.4,-8.3a0.6,0.6 0 1 0 1.3,0a0.6,0.6 0 1 0 -1.3,0M72.2,-8.4a0.6,0.6 0 1 0 1.1,0a0.6,0.6 0 1 0 -1.1,0M87.3,-8.8a0.9,0.9 0 1 0 1.8,0a0.9,0.9 0 1 0 -1.8,0M92.5,-8.4a0.9,0.9 0 1 0 1.8,0a0.9,0.9 0 1 0 -1.8,0M95.5,-9.2a0.9,0.9 0 1 0 1.8,0a0.9,0.9 0 1 0 -1.8,0M102.7,-8.6a0.5,0.5 0 1 0 1.0,0a0.5,0.5 0 1 0 -1.0,0M111.0,-9.5a0.7,0.7 0 1 0 1.3,0a0.7,0.7 0 1 0 -1.3,0M112.7,-9.1a0.7,0.7 0 1 0 1.4,0a0.7,0.7 0 1 0 -1.4,0M115.0,-8.3a0.9,0.9 0 1 0 1.9,0a0.9,0.9 0 1 0 -1.9,0M123.1,-9.4a0.7,0.7 0 1 0 1.3,0a0.7,0.7 0 1 0 -1.3,0M125.4,-8.4a0.9,0.9 0 1 0 1.7,0a0.9,0.9 0 1 0 -1.7,0M55.3,-6.6a0.9,0.9 0 1 0 1.9,0a0.9,0.9 0 1 0 -1.9,0M58.0,-6.2a0.8,0.8 0 1 0 1.5,0a0.8,0.8 0 1 0 -1.5,0M62.8,-7.1a0.9,0.9 0 1 0 1.8,0a0.9,0.9 0 1 0 -1.8,0M78.5,-6.9a0.7,0.7 0 1 0 1.4,0a0.7,0.7 0 1 0 -1.4,0M81.5,-6.4a0.9,0.9 0 1 0 1.8,0a0.9,0.9 0 1 0 -1.8,0M86.3,-6.3a0.5,0.5 0 1 0 0.9,0a0.5,0.5 0 1 0 -0.9,0M89.4,-6.1a0.8,0.8 0 1 0 1.6,0a0.8,0.8 0 1 0 -1.6,0M94.2,-6.1a0.8,0.8 0 1 0 1.6,0a0.8,0.8 0 1 0 -1.6,0M99.5,-6.4a0.7,0.7 0 1 0 1.4,0a0.7,0.7 0 1 0 -1.4,0M101.3,-6.2a0.7,0.7 0 1 0 1.4,0a0.7,0.7 0 1 0 -1.4,0M107.1,-6.9a0.9,0.9 0 1 0 1.9,0a0.9,0.9 0 1 0 -1.9,0M114.2,-6.8a0.8,0.8 0 1 0 1.6,0a0.8,0.8 0 1 0 -1.6,0M121.7,-6.6a0.9,0.9 0 1 0 1.9,0a0.9,0.9 0 1 0 -1.9,0M50.5,-3.7a0.9,0.9 0 1 0 1.8,0a0.9,0.9 0 1 0 -1.8,0M72.0,-4.5a0.6,0.6 0 1 0 1.3,0a0.6,0.6 0 1 0 -1.3,0M78.9,-4.5a0.9,0.9 0 1 0 1.8,0a0.9,0.9 0 1 0 -1.8,0M88.9,-4.8a0.9,0.9 0 1 0 1.8,0a0.9,0.9 0 1 0 -1.8,0M97.7,-4.1a0.7,0.7 0 1 0 1.4,0a0.7,0.7 0 1 0 -1.4,0M100.2,-4.8a0.6,0.6 0 1 0 1.1,0a0.6,0.6 0 1 0 -1.1,0M117.6,-3.9a0.7,0.7 0 1 0 1.4,0a0.7,0.7 0 1 0 -1.4,0M53.1,-2.5a0.6,0.6 0 1 0 1.3,0a0.6,0.6 0 1 0 -1.3,0M62.4,-2.0a0.8,0.8 0 1 0 1.7,0a0.8,0.8 0 1 0 -1.7,0M71.0,-2.2a0.6,0.6 0 1 0 1.2,0a0.6,0.6 0 1 0 -1.2,0M72.9,-2.5a0.9,0.9 0 1 0 1.8,0a0.9,0.9 0 1 0 -1.8,0M81.3,-1.6a0.8,0.8 0 1 0 1.5,0a0.8,0.8 0 1 0 -1.5,0M90.9,-2.0a0.8,0.8 0 1 0 1.6,0a0.8,0.8 0 1 0 -1.6,0M94.4,-1.5a0.5,0.5 0 1 0 1.0,0a0.5,0.5 0 1 0 -1.0,0M97.0,-2.2a0.6,0.6 0 1 0 1.3,0a0.6,0.6 0 1 0 -1.3,0M104.1,-2.3a0.8,0.8 0 1 0 1.6,0a0.8,0.8 0 1 0 -1.6,0M125.4,-2.2a0.6,0.6 0 1 0 1.3,0a0.6,0.6 0 1 0 -1.3,0M129.9,-2.3a0.6,0.6 0 1 0 1.1,0a0.6,0.6 0 1 0 -1.1,0M48.3,0.3a0.7,0.7 0 1 0 1.3,0a0.7,0.7 0 1 0 -1.3,0M68.1,0.4a0.5,0.5 0 1 0 0.9,0a0.5,0.5 0 1 0 -0.9,0M71.3,-0.1a0.7,0.7 0 1 0 1.5,0a0.7,0.7 0 1 0 -1.5,0M76.0,-0.2a0.7,0.7 0 1 0 1.4,0a0.7,0.7 0 1 0 -1.4,0M78.4,0.7a0.7,0.7 0 1 0 1.4,0a0.7,0.7 0 1 0 -1.4,0M84.0,-0.2a0.5,0.5 0 1 0 1.0,0a0.5,0.5 0 1 0 -1.0,0M96.3,0.2a0.5,0.5 0 1 0 1.1,0a0.5,0.5 0 1 0 -1.1,0M99.9,0.1a0.5,0.5 0 1 0 1.0,0a0.5,0.5 0 1 0 -1.0,0M109.3,0.8a0.7,0.7 0 1 0 1.5,0a0.7,0.7 0 1 0 -1.5,0M114.9,0.2a0.6,0.6 0 1 0 1.2,0a0.6,0.6 0 1 0 -1.2,0M47.8,2.2a0.9,0.9 0 1 0 1.8,0a0.9,0.9 0 1 0 -1.8,0M66.6,2.1a0.8,0.8 0 1 0 1.6,0a0.8,0.8 0 1 0 -1.6,0M71.2,3.0a0.9,0.9 0 1 0 1.7,0a0.9,0.9 0 1 0 -1.7,0M74.4,2.4a0.7,0.7 0 1 0 1.3,0a0.7,0.7 0 1 0 -1.3,0M84.9,2.6a0.8,0.8 0 1 0 1.6,0a0.8,0.8 0 1 0 -1.6,0M87.4,2.6a0.7,0.7 0 1 0 1.5,0a0.7,0.7 0 1 0 -1.5,0M89.6,2.3a0.5,0.5 0 1 0 1.0,0a0.5,0.5 0 1 0 -1.0,0M94.1,2.1a0.8,0.8 0 1 0 1.5,0a0.8,0.8 0 1 0 -1.5,0M105.3,2.8a0.8,0.8 0 1 0 1.5,0a0.8,0.8 0 1 0 -1.5,0M113.0,3.1a0.5,0.5 0 1 0 0.9,0a0.5,0.5 0 1 0 -0.9,0M115.3,2.6a0.6,0.6 0 1 0 1.2,0a0.6,0.6 0 1 0 -1.2,0M119.6,2.3a0.9,0.9 0 1 0 1.9,0a0.9,0.9 0 1 0 -1.9,0M127.9,2.3a0.7,0.7 0 1 0 1.4,0a0.7,0.7 0 1 0 -1.4,0M58.6,4.9a0.7,0.7 0 1 0 1.5,0a0.7,0.7 0 1 0 -1.5,0M79.6,4.6a0.7,0.7 0 1 0 1.3,0a0.7,0.7 0 1 0 -1.3,0M84.9,5.5a0.8,0.8 0 1 0 1.6,0a0.8,0.8 0 1 0 -1.6,0M87.7,5.2a0.7,0.7 0 1 0 1.4,0a0.7,0.7 0 1 0 -1.4,0M94.7,5.2a0.6,0.6 0 1 0 1.3,0a0.6,0.6 0 1 0 -1.3,0M100.1,4.5a0.7,0.7 0 1 0 1.4,0a0.7,0.7 0 1 0 -1.4,0M102.8,5.0a0.9,0.9 0 1 0 1.7,0a0.9,0.9 0 1 0 -1.7,0M131.2,4.5a0.9,0.9 0 1 0 1.8,0a0.9,0.9 0 1 0 -1.8,0M49.6,7.7a0.5,0.5 0 1 0 0.9,0a0.5,0.5 0 1 0 -0.9,0M51.9,7.9a0.6,0.6 0 1 0 1.2,0a0.6,0.6 0 1 0 -1.2,0M60.0,7.7a0.9,0.9 0 1 0 1.8,0a0.9,0.9 0 1 0 -1.8,0M70.7,7.3a0.8,0.8 0 1 0 1.6,0a0.8,0.8 0 1 0 -1.6,0M74.7,7.4a0.9,0.9 0 1 0 1.8,0a0.9,0.9 0 1 0 -1.8,0M88.3,7.9a0.8,0.8 0 1 0 1.7,0a0.8,0.8 0 1 0 -1.7,0M96.5,7.4a0.8,0.8 0 1 0 1.7,0a0.8,0.8 0 1 0 -1.7,0M99.1,7.4a0.8,0.8 0 1 0 1.5,0a0.8,0.8 0 1 0 -1.5,0M101.6,7.4a0.6,0.6 0 1 0 1.1,0a0.6,0.6 0 1 0 -1.1,0M104.2,7.3a0.5,0.5 0 1 0 1.0,0a0.5,0.5 0 1 0 -1.0,0M105.8,6.8a0.9,0.9 0 1 0 1.8,0a0.9,0.9 0 1 0 -1.8,0M109.0,7.2a0.8,0.8 0 1 0 1.7,0a0.8,0.8 0 1 0 -1.7,0M114.9,6.8a0.5,0.5 0 1 0 0.9,0a0.5,0.5 0 1 0 -0.9,0M116.0,7.7a0.9,0.9 0 1 0 1.8,0a0.9,0.9 0 1 0 -1.8,0M121.9,6.8a0.6,0.6 0 1 0 1.1,0a0.6,0.6 0 1 0 -1.1,0M128.8,7.6a0.9,0.9 0 1 0 1.8,0a0.9,0.9 0 1 0 -1.8,0M49.2,9.8a0.7,0.7 0 1 0 1.4,0a0.7,0.7 0 1 0 -1.4,0M62.8,9.5a0.8,0.8 0 1 0 1.5,0a0.8,0.8 0 1 0 -1.5,0M64.8,9.5a0.9,0.9 0 1 0 1.8,0a0.9,0.9 0 1 0 -1.8,0M75.6,10.1a0.6,0.6 0 1 0 1.2,0a0.6,0.6 0 1 0 -1.2,0M87.9,9.1a0.8,0.8 0 1 0 1.7,0a0.8,0.8 0 1 0 -1.7,0M93.1,9.8a0.7,0.7 0 1 0 1.4,0a0.7,0.7 0 1 0 -1.4,0M95.5,9.3a0.8,0.8 0 1 0 1.7,0a0.8,0.8 0 1 0 -1.7,0M98.4,9.1a0.8,0.8 0 1 0 1.7,0a0.8,0.8 0 1 0 -1.7,0M106.5,9.5a0.7,0.7 0 1 0 1.3,0a0.7,0.7 0 1 0 -1.3,0M111.8,9.2a0.6,0.6 0 1 0 1.2,0a0.6,0.6 0 1 0 -1.2,0M124.8,9.1a0.6,0.6 0 1 0 1.3,0a0.6,0.6 0 1 0 -1.3,0" fill="#000"/>
<line x1="47.50" y1="-6.00" x2="133.00" y2="-6.00" stroke="#222" stroke-width="0.6" />
<line x1="47.50" y1="4.50" x2="133.00" y2="4.50" stroke="#222" stroke-width="0.6" />
<rect x="133.00" y="-13.80" width="7.00" height="27.00" fill="url(#hx)" stroke="#000" stroke-width="0.9"/>
<line x1="140.00" y1="-7.60" x2="205.00" y2="-7.60" stroke="#000" stroke-width="0.9" />
<line x1="140.00" y1="-6.00" x2="205.00" y2="-6.00" stroke="#000" stroke-width="0.9" />
<line x1="140.00" y1="0.00" x2="205.00" y2="0.00" stroke="#000" stroke-width="0.9" />
<line x1="140.00" y1="6.40" x2="205.00" y2="6.40" stroke="#000" stroke-width="0.9" />
<line x1="140.00" y1="8.00" x2="205.00" y2="8.00" stroke="#000" stroke-width="0.9" />
<rect x="181" y="-24" width="4" height="50" fill="#fff"/>
<line x1="180.80" y1="-23.00" x2="182.30" y2="25.00" stroke="#000" stroke-width="0.9" />
<line x1="184.20" y1="-23.00" x2="185.70" y2="25.00" stroke="#000" stroke-width="0.9" />
<line x1="204.00" y1="-10.00" x2="444.00" y2="-10.00" stroke="#000" stroke-width="1.8" />
<line x1="204.00" y1="-6.80" x2="444.00" y2="-6.80" stroke="#000" stroke-width="0.85" />
<line x1="204.00" y1="-4.60" x2="444.00" y2="-4.60" stroke="#000" stroke-width="0.85" />
<line x1="204.00" y1="4.40" x2="444.00" y2="4.40" stroke="#000" stroke-width="0.85" />
<line x1="204.00" y1="6.60" x2="444.00" y2="6.60" stroke="#000" stroke-width="0.85" />
<line x1="204.00" y1="9.90" x2="444.00" y2="9.90" stroke="#000" stroke-width="1.8" />
<line x1="204.00" y1="0.00" x2="444.00" y2="0.00" stroke="#000" stroke-width="0.85" stroke-dasharray="14 3 3 3"/>
<rect x="204.50" y="-21.40" width="27.30" height="14.80" fill="url(#hx)" stroke="#000" stroke-width="0.9"/>
<rect x="204.50" y="6.50" width="27.30" height="15.00" fill="url(#hx)" stroke="#000" stroke-width="0.9"/>
<line x1="211.50" y1="-30.00" x2="211.50" y2="-20.70" stroke="#000" stroke-width="1.6" />
<line x1="233.50" y1="-21.40" x2="268.00" y2="-11.00" stroke="#000" stroke-width="1.4" />
<line x1="233.50" y1="21.50" x2="269.00" y2="8.50" stroke="#000" stroke-width="1.4" />
<line x1="232.30" y1="-21.00" x2="232.30" y2="-6.60" stroke="#000" stroke-width="0.9" />
<line x1="235.80" y1="-18.00" x2="235.80" y2="-6.60" stroke="#000" stroke-width="0.9" />
<line x1="232.30" y1="6.50" x2="232.30" y2="19.50" stroke="#000" stroke-width="0.9" />
<line x1="235.80" y1="6.50" x2="235.80" y2="17.50" stroke="#000" stroke-width="0.9" />
<rect x="237.50" y="-17.00" width="10.50" height="9.80" fill="url(#hy)" stroke="#000" stroke-width="0.9"/>
<rect x="237.50" y="6.50" width="10.50" height="9.30" fill="url(#hy)" stroke="#000" stroke-width="0.9"/>
<rect x="332" y="-18" width="4" height="32" fill="#fff"/>
<line x1="332.50" y1="-17.00" x2="333.50" y2="13.00" stroke="#000" stroke-width="0.9" />
<line x1="335.50" y1="-17.00" x2="336.50" y2="13.00" stroke="#000" stroke-width="0.9" />
<line x1="368.00" y1="-12.40" x2="404.00" y2="-12.40" stroke="#000" stroke-width="2.4" />
<line x1="368.00" y1="12.00" x2="402.00" y2="12.00" stroke="#000" stroke-width="2.4" />
<rect x="432.00" y="-12.30" width="10.00" height="4.80" fill="url(#hy)" stroke="#000" stroke-width="0.9"/>
<rect x="433.00" y="7.50" width="7.00" height="4.70" fill="url(#hy)" stroke="#000" stroke-width="0.9"/>
<rect x="444.00" y="-16.30" width="15.00" height="7.80" fill="url(#hx)" stroke="#000" stroke-width="0.9"/>
<rect x="444.00" y="5.80" width="15.00" height="9.60" fill="url(#hx)" stroke="#000" stroke-width="0.9"/>
<rect x="444" y="-16.3" width="15" height="31.7" fill="none" stroke="#000" stroke-width="2.0"/>
<line x1="444.00" y1="-8.50" x2="459.00" y2="-8.50" stroke="#000" stroke-width="1.6" />
<line x1="444.00" y1="5.80" x2="459.00" y2="5.80" stroke="#000" stroke-width="1.6" />
<line x1="444.00" y1="-6.00" x2="460.00" y2="-6.00" stroke="#000" stroke-width="0.8" />
<line x1="444.00" y1="-3.40" x2="460.00" y2="-3.40" stroke="#000" stroke-width="0.8" />
<line x1="444.00" y1="1.60" x2="460.00" y2="1.60" stroke="#000" stroke-width="0.8" />
<line x1="444.00" y1="4.00" x2="460.00" y2="4.00" stroke="#000" stroke-width="0.8" />
<line x1="444.00" y1="-1.20" x2="460.00" y2="-1.20" stroke="#000" stroke-width="0.8" stroke-dasharray="4 1.5 1 1.5"/>
<rect x="460.00" y="-14.50" width="58.00" height="28.70" fill="#fff"/>
<path d="M468.5,-13.9L469.3,-12.2L467.4,-12.6zM475.5,-12.6L473.0,-13.5L475.1,-15.1zM482.3,-14.4L480.8,-11.1L478.5,-12.9zM488.9,-14.4L489.1,-12.4L486.8,-13.4zM488.8,-14.4L491.8,-15.2L490.4,-12.2zM494.8,-14.5L494.9,-12.7L492.7,-13.4zM499.3,-14.5L502.6,-13.3L499.3,-11.4zM505.4,-13.9L502.7,-13.0L503.5,-15.0zM512.4,-13.0L508.3,-12.0L508.9,-14.9zM461.3,-12.6L463.9,-10.9L460.8,-9.5zM464.8,-9.4L463.2,-10.8L465.6,-11.1zM468.5,-11.3L469.6,-10.2L467.6,-10.1zM472.4,-11.5L471.6,-8.6L468.8,-9.9zM484.2,-11.5L485.5,-10.1L483.4,-10.2zM489.4,-9.7L485.6,-9.7L488.0,-11.9zM492.7,-10.4L489.5,-9.8L490.0,-11.7zM496.0,-10.7L493.0,-9.5L493.5,-12.7zM500.3,-12.1L503.0,-10.4L499.6,-8.8zM503.0,-10.0L503.6,-11.4L505.0,-10.1zM470.8,-6.8L471.5,-9.4L473.9,-8.2zM475.9,-7.8L474.1,-6.8L474.3,-8.5zM483.1,-9.2L486.8,-8.8L484.2,-6.1zM486.9,-8.0L489.0,-7.6L487.1,-6.1zM490.0,-7.9L492.3,-8.8L492.5,-6.5zM493.9,-6.8L492.5,-8.1L495.1,-8.4zM499.1,-8.3L502.1,-7.9L500.4,-6.0zM502.4,-8.6L504.7,-8.9L503.9,-6.8zM511.4,-5.7L508.4,-6.4L511.8,-8.2zM513.6,-9.5L515.4,-8.0L512.7,-7.2zM516.7,-6.4L517.3,-8.5L519.1,-7.1zM478.8,-5.8L477.7,-3.0L475.3,-4.9zM483.5,-5.8L483.9,-3.7L481.8,-4.3zM485.4,-5.5L487.5,-5.6L486.9,-4.2zM495.9,-5.0L493.1,-3.3L492.7,-6.8zM498.6,-3.7L499.6,-6.2L501.9,-4.0zM504.0,-5.5L507.3,-5.3L505.0,-3.5zM463.7,-2.0L465.9,-2.8L466.0,-1.0zM472.1,-2.9L473.0,-0.9L470.1,-1.5zM477.6,-0.7L476.5,-3.1L479.5,-2.7zM482.1,-0.9L480.3,-1.8L481.7,-2.6zM482.0,-3.3L485.8,-2.3L484.0,-0.5zM485.6,-0.2L485.6,-2.7L488.8,-1.5zM491.9,-2.8L496.0,-2.2L493.9,-0.1zM498.7,-3.6L498.5,-0.5L495.2,-2.9zM503.3,-2.5L505.2,-1.1L502.6,-0.3zM509.2,-0.1L508.2,-3.4L511.8,-3.0zM514.2,-1.3L512.4,-1.9L513.6,-2.8zM517.6,-1.9L515.3,-1.5L515.8,-3.1zM463.3,1.9L459.7,1.1L462.9,-0.8zM463.7,1.9L465.4,-0.9L467.1,0.8zM469.7,2.1L466.9,1.2L468.7,-0.2zM470.7,0.6L472.9,0.6L471.1,2.2zM474.2,0.1L475.2,1.7L472.7,1.4zM478.3,1.7L476.8,0.6L478.3,0.1zM484.5,2.0L482.8,0.8L485.5,0.4zM492.6,-0.5L495.5,0.7L492.8,2.3zM496.2,2.8L496.8,-0.3L499.6,1.2zM502.8,1.6L502.3,-0.1L504.3,0.1zM504.8,0.6L508.8,0.6L507.4,3.0zM510.7,0.7L510.5,2.1L509.2,1.5zM468.6,4.2L467.4,5.4L467.0,3.7zM479.0,5.0L475.3,5.5L477.0,2.9zM483.0,4.8L483.2,3.3L484.7,4.1zM491.2,3.2L489.7,5.1L488.3,3.1zM501.0,2.7L501.5,5.3L497.9,4.5zM503.3,4.8L501.5,3.3L503.7,2.8zM506.5,4.9L504.4,4.2L506.0,2.7zM512.1,4.2L509.2,5.8L508.5,3.4zM514.5,4.1L511.4,4.8L512.2,2.7zM470.9,8.3L470.4,5.5L474.0,6.7zM473.7,7.0L475.6,7.0L474.5,8.2zM480.1,6.4L482.2,6.1L481.1,8.1zM487.1,5.4L488.6,6.4L486.2,6.8zM490.8,6.4L492.9,7.3L490.9,8.3zM496.6,6.1L499.2,5.7L498.6,7.8zM502.3,5.8L499.8,8.6L498.8,5.3zM509.3,6.7L507.2,8.5L506.4,6.0zM515.0,7.9L516.6,5.7L518.1,8.0zM467.1,9.5L469.2,8.5L469.5,10.2zM473.7,10.2L470.6,10.3L471.5,8.1zM487.0,11.0L487.1,9.4L489.1,10.6zM500.0,8.7L502.9,10.8L500.3,11.8zM510.1,8.6L513.4,10.0L510.4,12.0zM460.2,14.6L459.5,12.1L462.3,12.7zM464.6,11.8L464.5,14.8L462.2,14.1zM468.1,10.7L469.4,13.2L465.4,13.2zM472.1,14.2L469.6,12.8L471.9,11.8zM474.8,14.1L473.3,12.3L475.7,12.3zM475.3,11.8L478.1,11.7L477.0,13.8zM479.0,13.2L480.6,12.3L480.9,13.3zM482.0,13.1L483.9,12.0L484.0,14.0zM500.5,11.4L502.5,13.8L498.8,13.8zM502.6,13.6L502.5,12.2L504.2,13.3zM505.8,13.6L505.7,11.9L507.9,12.4zM509.7,14.2L508.8,12.0L511.9,12.1z" fill="none" stroke="#000" stroke-width="0.65"/>
<path d="M464.7,-14.0a0.8,0.8 0 1 0 1.6,0a0.8,0.8 0 1 0 -1.6,0M470.8,-13.4a0.5,0.5 0 1 0 1.0,0a0.5,0.5 0 1 0 -1.0,0M477.8,-14.1a0.5,0.5 0 1 0 1.1,0a0.5,0.5 0 1 0 -1.1,0M512.7,-14.1a0.7,0.7 0 1 0 1.4,0a0.7,0.7 0 1 0 -1.4,0M477.1,-10.9a0.6,0.6 0 1 0 1.3,0a0.6,0.6 0 1 0 -1.3,0M480.4,-10.7a0.5,0.5 0 1 0 0.9,0a0.5,0.5 0 1 0 -0.9,0M496.4,-11.2a0.7,0.7 0 1 0 1.5,0a0.7,0.7 0 1 0 -1.5,0M506.9,-11.0a0.8,0.8 0 1 0 1.6,0a0.8,0.8 0 1 0 -1.6,0M512.9,-10.7a0.7,0.7 0 1 0 1.4,0a0.7,0.7 0 1 0 -1.4,0M516.3,-10.0a0.6,0.6 0 1 0 1.2,0a0.6,0.6 0 1 0 -1.2,0M464.5,-7.1a0.9,0.9 0 1 0 1.7,0a0.9,0.9 0 1 0 -1.7,0M481.2,-8.2a0.6,0.6 0 1 0 1.2,0a0.6,0.6 0 1 0 -1.2,0M497.2,-7.5a0.8,0.8 0 1 0 1.6,0a0.8,0.8 0 1 0 -1.6,0M507.1,-8.0a0.7,0.7 0 1 0 1.4,0a0.7,0.7 0 1 0 -1.4,0M463.3,-4.7a0.8,0.8 0 1 0 1.6,0a0.8,0.8 0 1 0 -1.6,0M466.5,-4.7a0.8,0.8 0 1 0 1.6,0a0.8,0.8 0 1 0 -1.6,0M472.2,-4.4a0.7,0.7 0 1 0 1.4,0a0.7,0.7 0 1 0 -1.4,0M479.4,-4.8a0.6,0.6 0 1 0 1.2,0a0.6,0.6 0 1 0 -1.2,0M489.4,-4.9a0.9,0.9 0 1 0 1.7,0a0.9,0.9 0 1 0 -1.7,0M495.6,-4.2a0.7,0.7 0 1 0 1.4,0a0.7,0.7 0 1 0 -1.4,0M501.9,-4.2a0.7,0.7 0 1 0 1.4,0a0.7,0.7 0 1 0 -1.4,0M508.3,-4.8a0.9,0.9 0 1 0 1.9,0a0.9,0.9 0 1 0 -1.9,0M511.8,-4.7a0.5,0.5 0 1 0 1.1,0a0.5,0.5 0 1 0 -1.1,0M514.9,-4.1a0.7,0.7 0 1 0 1.4,0a0.7,0.7 0 1 0 -1.4,0M460.9,-1.6a0.9,0.9 0 1 0 1.9,0a0.9,0.9 0 1 0 -1.9,0M466.9,-1.6a0.6,0.6 0 1 0 1.3,0a0.6,0.6 0 1 0 -1.3,0M473.0,-2.0a0.7,0.7 0 1 0 1.5,0a0.7,0.7 0 1 0 -1.5,0M489.5,-1.3a0.6,0.6 0 1 0 1.2,0a0.6,0.6 0 1 0 -1.2,0M499.8,-2.0a0.9,0.9 0 1 0 1.9,0a0.9,0.9 0 1 0 -1.9,0M506.8,-1.8a0.6,0.6 0 1 0 1.1,0a0.6,0.6 0 1 0 -1.1,0M480.6,0.7a0.6,0.6 0 1 0 1.3,0a0.6,0.6 0 1 0 -1.3,0M499.3,1.6a0.8,0.8 0 1 0 1.6,0a0.8,0.8 0 1 0 -1.6,0M512.5,1.6a0.5,0.5 0 1 0 0.9,0a0.5,0.5 0 1 0 -0.9,0M515.9,0.7a0.6,0.6 0 1 0 1.1,0a0.6,0.6 0 1 0 -1.1,0M463.6,3.6a0.6,0.6 0 1 0 1.3,0a0.6,0.6 0 1 0 -1.3,0M469.9,4.4a0.8,0.8 0 1 0 1.5,0a0.8,0.8 0 1 0 -1.5,0M473.0,3.5a0.7,0.7 0 1 0 1.3,0a0.7,0.7 0 1 0 -1.3,0M485.7,3.6a0.8,0.8 0 1 0 1.6,0a0.8,0.8 0 1 0 -1.6,0M493.1,3.6a0.6,0.6 0 1 0 1.2,0a0.6,0.6 0 1 0 -1.2,0M496.3,4.1a0.5,0.5 0 1 0 1.1,0a0.5,0.5 0 1 0 -1.1,0M515.6,4.6a0.6,0.6 0 1 0 1.2,0a0.6,0.6 0 1 0 -1.2,0M460.5,6.4a0.9,0.9 0 1 0 1.7,0a0.9,0.9 0 1 0 -1.7,0M463.9,6.6a0.9,0.9 0 1 0 1.7,0a0.9,0.9 0 1 0 -1.7,0M468.0,6.6a0.9,0.9 0 1 0 1.7,0a0.9,0.9 0 1 0 -1.7,0M493.3,6.9a0.9,0.9 0 1 0 1.7,0a0.9,0.9 0 1 0 -1.7,0M504.2,7.1a0.5,0.5 0 1 0 1.0,0a0.5,0.5 0 1 0 -1.0,0M512.6,6.6a0.7,0.7 0 1 0 1.3,0a0.7,0.7 0 1 0 -1.3,0M474.4,10.4a0.8,0.8 0 1 0 1.6,0a0.8,0.8 0 1 0 -1.6,0M481.4,9.4a0.6,0.6 0 1 0 1.3,0a0.6,0.6 0 1 0 -1.3,0M483.8,10.5a0.8,0.8 0 1 0 1.7,0a0.8,0.8 0 1 0 -1.7,0M490.6,9.7a0.7,0.7 0 1 0 1.3,0a0.7,0.7 0 1 0 -1.3,0M507.6,9.4a0.5,0.5 0 1 0 1.0,0a0.5,0.5 0 1 0 -1.0,0M513.8,10.3a0.5,0.5 0 1 0 1.0,0a0.5,0.5 0 1 0 -1.0,0M488.9,12.9a0.9,0.9 0 1 0 1.8,0a0.9,0.9 0 1 0 -1.8,0M493.3,13.0a0.6,0.6 0 1 0 1.3,0a0.6,0.6 0 1 0 -1.3,0M512.1,12.6a0.7,0.7 0 1 0 1.5,0a0.7,0.7 0 1 0 -1.5,0" fill="#000"/>
<line x1="460.00" y1="-9.50" x2="518.00" y2="-9.50" stroke="#333" stroke-width="0.5" />
<line x1="460.00" y1="-5.00" x2="518.00" y2="-5.00" stroke="#333" stroke-width="0.5" />
<line x1="460.00" y1="-1.20" x2="518.00" y2="-1.20" stroke="#333" stroke-width="0.5" />
<line x1="460.00" y1="3.00" x2="518.00" y2="3.00" stroke="#333" stroke-width="0.5" />
<line x1="460.00" y1="7.50" x2="518.00" y2="7.50" stroke="#333" stroke-width="0.5" />
<line x1="460.00" y1="11.00" x2="518.00" y2="11.00" stroke="#333" stroke-width="0.5" />
<line x1="459.00" y1="-14.80" x2="519.00" y2="-14.80" stroke="#000" stroke-width="1.4" />
<line x1="459.00" y1="14.50" x2="519.00" y2="14.50" stroke="#000" stroke-width="1.4" />
<line x1="459.00" y1="-16.30" x2="517.00" y2="-20.50" stroke="#000" stroke-width="1.2" />
<line x1="459.00" y1="15.40" x2="517.00" y2="20.00" stroke="#000" stroke-width="1.2" />
<line x1="520.50" y1="-22.00" x2="520.50" y2="21.50" stroke="#000" stroke-width="2.2" />
<rect x="517" y="-24.8" width="8" height="6.6" fill="url(#hx)" stroke="#000" stroke-width="1.2"/>
<line x1="515.50" y1="-21.50" x2="527.00" y2="-21.50" stroke="#000" stroke-width="1.0" />
<line x1="521.00" y1="-26.00" x2="521.00" y2="-17.00" stroke="#000" stroke-width="1.0" />
<rect x="517" y="15.2" width="8" height="6.6" fill="url(#hx)" stroke="#000" stroke-width="1.2"/>
<line x1="515.50" y1="18.50" x2="527.00" y2="18.50" stroke="#000" stroke-width="1.0" />
<line x1="521.00" y1="14.00" x2="521.00" y2="23.00" stroke="#000" stroke-width="1.0" />
<line x1="-25.50" y1="-27.90" x2="-0.60" y2="-27.90" stroke="#000" stroke-width="0.9" />
<text x="-18.5" y="-29.8" font-size="7.53" textLength="15.5" lengthAdjust="spacingAndGlyphs" fill="#3c3c3c" >保护罩</text>
<line x1="-0.60" y1="-27.90" x2="0.30" y2="-18.60" stroke="#000" stroke-width="0.9" />
<line x1="-0.60" y1="-28.10" x2="29.40" y2="-28.10" stroke="#000" stroke-width="0.9" />
<text x="11.0" y="-29.5" font-size="9.09" textLength="8.5" lengthAdjust="spacingAndGlyphs" fill="#3c3c3c" >450</text>
<line x1="0.20" y1="-31.00" x2="0.20" y2="-19.00" stroke="#000" stroke-width="0.8" />
<line x1="29.40" y1="-31.00" x2="29.40" y2="-21.00" stroke="#000" stroke-width="0.8" />
<line x1="0.90" y1="-44.80" x2="21.60" y2="-44.80" stroke="#000" stroke-width="0.9" />
<text x="1.7" y="-46.7" font-size="7.53" textLength="19.2" lengthAdjust="spacingAndGlyphs" fill="#3c3c3c" >防松装置</text>
<line x1="21.60" y1="-44.80" x2="25.30" y2="-20.50" stroke="#000" stroke-width="0.9" />
<line x1="26.40" y1="-44.00" x2="36.50" y2="-44.00" stroke="#000" stroke-width="0.9" />
<text x="27.2" y="-45.9" font-size="7.53" textLength="9.5" lengthAdjust="spacingAndGlyphs" fill="#3c3c3c" >螺母</text>
<line x1="36.50" y1="-44.00" x2="38.70" y2="-22.70" stroke="#000" stroke-width="0.9" />
<line x1="29.10" y1="-56.90" x2="42.00" y2="-56.90" stroke="#000" stroke-width="0.9" />
<text x="29.9" y="-58.8" font-size="7.53" textLength="10.0" lengthAdjust="spacingAndGlyphs" fill="#3c3c3c" >锚板</text>
<line x1="42.00" y1="-56.90" x2="43.10" y2="-23.00" stroke="#000" stroke-width="0.9" />
<line x1="55.50" y1="-54.00" x2="78.50" y2="-54.00" stroke="#000" stroke-width="0.9" />
<text x="58.5" y="-55.9" font-size="7.53" textLength="16.5" lengthAdjust="spacingAndGlyphs" fill="#3c3c3c" >锚垫板</text>
<line x1="55.50" y1="-54.00" x2="53.50" y2="-32.40" stroke="#000" stroke-width="0.9" />
<line x1="83.00" y1="-49.00" x2="133.50" y2="-49.00" stroke="#000" stroke-width="0.9" />
<text x="101.0" y="-50.9" font-size="7.53" textLength="16.0" lengthAdjust="spacingAndGlyphs" fill="#3c3c3c" >预埋管</text>
<line x1="83.00" y1="-49.00" x2="83.00" y2="-21.00" stroke="#000" stroke-width="0.9" />
<text x="87.3" y="-41.2" font-size="6.02" textLength="47.0" lengthAdjust="spacingAndGlyphs" fill="#3c3c3c" >351×10(377×10)</text>
<text x="88.2" y="-33.8" font-size="8.79" textLength="8.0" lengthAdjust="spacingAndGlyphs" fill="#3c3c3c" >800</text>
<line x1="53.60" y1="-31.10" x2="139.40" y2="-31.10" stroke="#000" stroke-width="0.9" />
<polygon points="139.40,-31.10 134.00,-32.30 134.00,-29.90" fill="#000" stroke="none" stroke-width="0"/>
<polygon points="53.60,-31.10 59.00,-32.30 59.00,-29.90" fill="#000" stroke="none" stroke-width="0"/>
<line x1="139.90" y1="-37.00" x2="140.50" y2="-26.00" stroke="#000" stroke-width="1.0" />
<line x1="143.70" y1="-30.60" x2="168.30" y2="-30.60" stroke="#000" stroke-width="0.9" />
<text x="144.5" y="-32.5" font-size="7.53" textLength="23.1" lengthAdjust="spacingAndGlyphs" fill="#3c3c3c" >密封装置</text>
<line x1="143.70" y1="-30.60" x2="138.40" y2="-18.00" stroke="#000" stroke-width="0.9" />
<line x1="184.60" y1="-28.00" x2="203.70" y2="-28.00" stroke="#000" stroke-width="0.9" />
<text x="185.4" y="-29.9" font-size="7.53" textLength="17.6" lengthAdjust="spacingAndGlyphs" fill="#3c3c3c" >减振装置</text>
<line x1="203.70" y1="-28.00" x2="209.00" y2="-19.30" stroke="#000" stroke-width="0.9" />
<line x1="245.00" y1="-28.80" x2="263.00" y2="-28.80" stroke="#000" stroke-width="0.9" />
<text x="245.8" y="-30.7" font-size="7.53" textLength="16.5" lengthAdjust="spacingAndGlyphs" fill="#3c3c3c" >防水罩</text>
<line x1="245.00" y1="-28.80" x2="238.00" y2="-20.30" stroke="#000" stroke-width="0.9" />
<line x1="312.30" y1="-31.20" x2="339.00" y2="-31.20" stroke="#000" stroke-width="0.9" />
<text x="313.1" y="-33.1" font-size="7.53" textLength="19.0" lengthAdjust="spacingAndGlyphs" fill="#3c3c3c" >HDPE护管</text>
<line x1="312.30" y1="-31.20" x2="303.20" y2="-10.90" stroke="#000" stroke-width="0.9" />
<text x="318.9" y="-24.7" font-size="6.02" textLength="20.0" lengthAdjust="spacingAndGlyphs" fill="#3c3c3c" >200×7.7</text>
<line x1="390.00" y1="-26.00" x2="426.60" y2="-26.00" stroke="#000" stroke-width="0.9" />
<text x="390.8" y="-27.9" font-size="7.53" textLength="35.1" lengthAdjust="spacingAndGlyphs" fill="#3c3c3c" >塔端连接装置</text>
<line x1="390.00" y1="-26.00" x2="386.00" y2="-14.80" stroke="#000" stroke-width="0.9" />
<line x1="470.00" y1="-25.70" x2="494.00" y2="-25.70" stroke="#000" stroke-width="0.9" />
<text x="470.8" y="-27.6" font-size="7.53" textLength="22.5" lengthAdjust="spacingAndGlyphs" fill="#3c3c3c" >环氧砂浆</text>
<line x1="470.00" y1="-25.70" x2="465.00" y2="-11.30" stroke="#000" stroke-width="0.9" />
<line x1="502.00" y1="-41.00" x2="530.00" y2="-41.00" stroke="#000" stroke-width="0.9" />
<text x="502.8" y="-42.9" font-size="7.53" textLength="26.5" lengthAdjust="spacingAndGlyphs" fill="#3c3c3c" >锚固装置</text>
<line x1="502.00" y1="-41.00" x2="489.60" y2="-15.60" stroke="#000" stroke-width="0.9" />
<line x1="414.00" y1="30.60" x2="433.00" y2="30.60" stroke="#000" stroke-width="0.9" />
<text x="414.8" y="28.7" font-size="7.53" textLength="16.0" lengthAdjust="spacingAndGlyphs" fill="#3c3c3c" >索箍1</text>
<line x1="433.00" y1="30.60" x2="437.00" y2="11.60" stroke="#000" stroke-width="0.9" />
<line x1="114.00" y1="32.60" x2="138.60" y2="32.60" stroke="#000" stroke-width="0.9" />
<text x="114.8" y="30.7" font-size="7.53" textLength="23.1" lengthAdjust="spacingAndGlyphs" fill="#3c3c3c" >环氧砂浆</text>
<line x1="114.00" y1="32.60" x2="106.00" y2="5.50" stroke="#000" stroke-width="0.9" />
<line x1="146.60" y1="47.40" x2="208.80" y2="47.40" stroke="#000" stroke-width="0.9" />
<text x="147.4" y="45.5" font-size="7.53" textLength="60.7" lengthAdjust="spacingAndGlyphs" fill="#3c3c3c" >预埋管内灌注固体防腐油脂</text>
<line x1="146.60" y1="47.40" x2="140.30" y2="10.30" stroke="#000" stroke-width="0.9" />
<line x1="-45.50" y1="39.70" x2="-0.50" y2="39.70" stroke="#000" stroke-width="0.9" />
<text x="-44.7" y="37.8" font-size="7.53" textLength="43.5" lengthAdjust="spacingAndGlyphs" fill="#3c3c3c" >灌注固体防腐油脂</text>
<line x1="-0.50" y1="39.70" x2="8.20" y2="12.90" stroke="#000" stroke-width="0.9" />
<line x1="-20.00" y1="-23.00" x2="-20.00" y2="23.60" stroke="#000" stroke-width="0.9" />
<line x1="-24.00" y1="-23.00" x2="-16.00" y2="-23.00" stroke="#000" stroke-width="0.9" />
<line x1="-24.00" y1="23.60" x2="-16.00" y2="23.60" stroke="#000" stroke-width="0.9" />
<g transform="translate(-12.80,-11.70) rotate(90)">
<text x="0.0" y="5.6" font-size="6.67" textLength="24.0" lengthAdjust="spacingAndGlyphs" fill="#3c3c3c" >365(410)</text>
</g>
<line x1="-10.00" y1="-18.70" x2="-10.00" y2="18.90" stroke="#000" stroke-width="0.9" />
<line x1="-14.00" y1="-18.70" x2="-6.00" y2="-18.70" stroke="#000" stroke-width="0.9" />
<line x1="-14.00" y1="18.90" x2="-6.00" y2="18.90" stroke="#000" stroke-width="0.9" />
<g transform="translate(-2.80,-10.90) rotate(90)">
<text x="0.0" y="5.6" font-size="6.67" textLength="22.0" lengthAdjust="spacingAndGlyphs" fill="#3c3c3c" >255(295)</text>
</g>
<line x1="15.00" y1="-26.00" x2="15.00" y2="57.20" stroke="#000" stroke-width="0.9" />
<g transform="translate(22.40,27.00) rotate(90)">
<text x="0.0" y="5.8" font-size="6.88" textLength="24.0" lengthAdjust="spacingAndGlyphs" fill="#3c3c3c" >315(355)</text>
</g>
<line x1="65.00" y1="-28.40" x2="65.00" y2="88.80" stroke="#000" stroke-width="0.9" />
<g transform="translate(72.40,27.00) rotate(90)">
<text x="0.0" y="5.8" font-size="6.88" textLength="58.0" lengthAdjust="spacingAndGlyphs" fill="#3c3c3c" >330(350)(锚垫板尺寸)</text>
</g>
<line x1="98.00" y1="-28.10" x2="98.00" y2="60.80" stroke="#000" stroke-width="0.9" />
<g transform="translate(105.40,30.00) rotate(90)">
<text x="0.0" y="5.8" font-size="6.88" textLength="24.0" lengthAdjust="spacingAndGlyphs" fill="#3c3c3c" >351(377)</text>
</g>
<line x1="215.60" y1="-6.00" x2="215.60" y2="53.70" stroke="#000" stroke-width="0.9" />
<g transform="translate(223.00,25.00) rotate(90)">
<text x="0.0" y="5.8" font-size="6.88" textLength="24.0" lengthAdjust="spacingAndGlyphs" fill="#3c3c3c" >320(360)</text>
</g>
<line x1="30.00" y1="21.00" x2="30.00" y2="47.00" stroke="#000" stroke-width="0.8" />
<line x1="48.00" y1="21.00" x2="48.00" y2="50.00" stroke="#000" stroke-width="0.8" />
<line x1="30.00" y1="33.00" x2="48.00" y2="33.00" stroke="#000" stroke-width="0.8" />
<line x1="30.00" y1="44.00" x2="48.00" y2="44.00" stroke="#000" stroke-width="0.8" />
<text x="31.5" y="30.0" font-size="5.91" textLength="15.0" lengthAdjust="spacingAndGlyphs" fill="#3c3c3c" >290(340)</text>
<text x="34.0" y="42.0" font-size="8.33" textLength="9.0" lengthAdjust="spacingAndGlyphs" fill="#3c3c3c" >176</text>
</g>
<path d="M611.0,75.8 C617.2,75.1 633.8,73.9 648.0,71.7 C662.2,69.5 680.0,64.8 696.0,62.8 C712.0,60.8 727.8,60.5 744.0,60.0 C760.2,59.5 784.8,59.8 793.0,59.7 M611.0,78.4 C617.2,77.7 633.8,76.4 648.0,74.2 C662.2,72.0 680.0,67.3 696.0,65.2 C712.0,63.2 727.8,62.7 744.0,62.2 C760.2,61.6 784.8,61.9 793.0,61.9 M611.0,81.1 C617.2,80.3 633.8,78.9 648.0,76.7 C662.2,74.5 680.0,69.8 696.0,67.7 C712.0,65.6 727.8,64.9 744.0,64.3 C760.2,63.7 784.8,64.1 793.0,64.1 M611.0,83.7 C617.2,83.0 633.8,81.5 648.0,79.2 C662.2,77.0 680.0,72.3 696.0,70.1 C712.0,68.0 727.8,67.1 744.0,66.5 C760.2,65.8 784.8,66.3 793.0,66.2 M611.0,86.3 C617.2,85.6 633.8,84.0 648.0,81.7 C662.2,79.4 680.0,74.8 696.0,72.6 C712.0,70.4 727.8,69.3 744.0,68.7 C760.2,68.0 784.8,68.5 793.0,68.4 M611.0,89.0 C617.2,88.2 633.8,86.6 648.0,84.2 C662.2,81.9 680.0,77.3 696.0,75.0 C712.0,72.8 727.8,71.6 744.0,70.8 C760.2,70.1 784.8,70.6 793.0,70.6 M611.0,91.6 C617.2,90.8 633.8,89.1 648.0,86.8 C662.2,84.4 680.0,79.8 696.0,77.5 C712.0,75.2 727.8,73.8 744.0,73.0 C760.2,72.2 784.8,72.8 793.0,72.8 M611.0,94.3 C617.2,93.4 633.8,91.7 648.0,89.3 C662.2,86.9 680.0,82.3 696.0,79.9 C712.0,77.6 727.8,76.0 744.0,75.1 C760.2,74.3 784.8,75.0 793.0,75.0 M611.0,96.9 C617.2,96.0 633.8,94.2 648.0,91.8 C662.2,89.4 680.0,84.8 696.0,82.4 C712.0,80.0 727.8,78.2 744.0,77.3 C760.2,76.4 784.8,77.2 793.0,77.2 M611.0,99.5 C617.2,98.7 633.8,96.7 648.0,94.3 C662.2,91.8 680.0,87.3 696.0,84.8 C712.0,82.3 727.8,80.4 744.0,79.5 C760.2,78.6 784.8,79.4 793.0,79.3 M611.0,102.2 C617.2,101.3 633.8,99.3 648.0,96.8 C662.2,94.3 680.0,89.8 696.0,87.3 C712.0,84.7 727.8,82.6 744.0,81.6 C760.2,80.7 784.8,81.5 793.0,81.5 M611.0,104.8 C617.2,103.9 633.8,101.8 648.0,99.3 C662.2,96.8 680.0,92.3 696.0,89.7 C712.0,87.1 727.8,84.8 744.0,83.8 C760.2,82.8 784.8,83.7 793.0,83.7" fill="none" stroke="#000" stroke-width="0.95"/>
<line x1="796.70" y1="47.20" x2="792.40" y2="95.30" stroke="#000" stroke-width="1.1" />
<polygon points="792,67.5 800,69.3 792,71" fill="#000"/>
<line x1="609.60" y1="75.30" x2="649.30" y2="69.30" stroke="#000" stroke-width="1.0" />
<line x1="649.30" y1="69.30" x2="650.50" y2="72.50" stroke="#000" stroke-width="1.0" />
<line x1="619.20" y1="111.30" x2="656.50" y2="95.70" stroke="#000" stroke-width="1.0" />
<line x1="656.50" y1="95.70" x2="655.80" y2="93.00" stroke="#000" stroke-width="1.0" />
<line x1="656.50" y1="59.70" x2="675.70" y2="55.60" stroke="#000" stroke-width="0.9" />
<line x1="656.50" y1="59.70" x2="657.70" y2="76.50" stroke="#000" stroke-width="0.9" />
<g transform="translate(660.5,57.2) rotate(-12)">
<text x="0.0" y="-1.7" font-size="6.88" textLength="14.0" lengthAdjust="spacingAndGlyphs" fill="#3c3c3c" >索鞍</text>
</g>
<line x1="343.40" y1="175.00" x2="355.40" y2="193.00" stroke="#000" stroke-width="0.9" />
<line x1="355.40" y1="193.00" x2="371.00" y2="189.40" stroke="#000" stroke-width="0.9" />
<g transform="translate(356.4,192) rotate(-13)">
<text x="0.0" y="-2.2" font-size="6.88" textLength="13.5" lengthAdjust="spacingAndGlyphs" fill="#3c3c3c" >索箍</text>
</g>
</svg></body></html>
